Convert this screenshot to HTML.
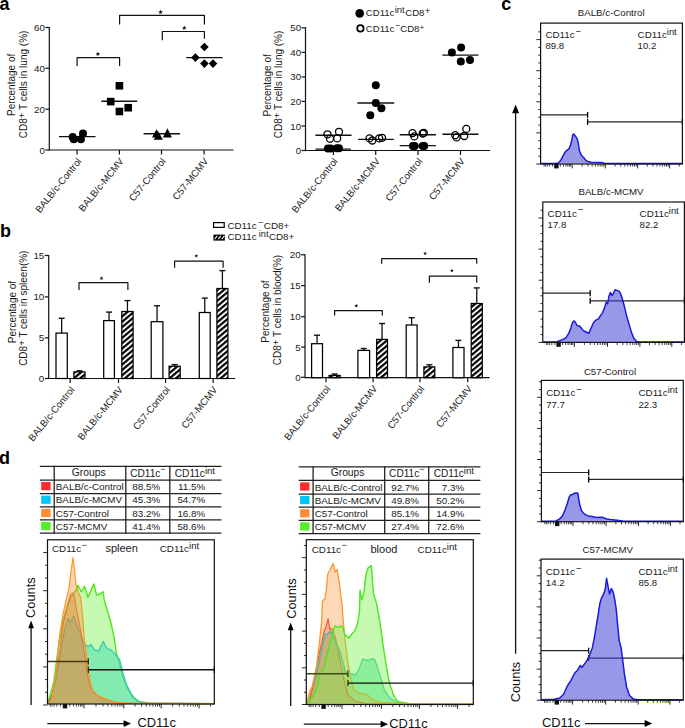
<!DOCTYPE html><html><head><meta charset="utf-8"><style>html,body{margin:0;padding:0;background:#fff;overflow:hidden}svg{display:block}text{font-family:"Liberation Sans",sans-serif}</style></head><body>
<svg width="685" height="728" viewBox="0 0 685 728">
<defs><pattern id="hatch" patternUnits="userSpaceOnUse" width="4.1" height="4.1" patternTransform="rotate(-40)"><rect x="0" y="0" width="4.1" height="4.1" fill="#fff"/><rect x="0" y="0" width="4.1" height="2.2" fill="#000"/></pattern></defs>
<rect width="685" height="728" fill="#fff"/>
<text x="-0.50" y="9.70" font-size="18" text-anchor="start" fill="#000" font-weight="bold" >a</text>
<text x="0.10" y="236.80" font-size="18" text-anchor="start" fill="#000" font-weight="bold" >b</text>
<text x="-0.90" y="463.80" font-size="18" text-anchor="start" fill="#000" font-weight="bold" >d</text>
<text x="501.30" y="9.70" font-size="18" text-anchor="start" fill="#000" font-weight="bold" >c</text>
<line x1="49.30" y1="26.90" x2="49.30" y2="150.60" stroke="#111" stroke-width="1.2"/>
<line x1="45.40" y1="27.50" x2="49.30" y2="27.50" stroke="#111" stroke-width="1.2"/>
<text x="44.90" y="31.00" font-size="9.8" text-anchor="end" fill="#1a1a1a" >60</text>
<line x1="45.40" y1="68.30" x2="49.30" y2="68.30" stroke="#111" stroke-width="1.2"/>
<text x="44.90" y="71.80" font-size="9.8" text-anchor="end" fill="#1a1a1a" >40</text>
<line x1="45.40" y1="109.20" x2="49.30" y2="109.20" stroke="#111" stroke-width="1.2"/>
<text x="44.90" y="112.70" font-size="9.8" text-anchor="end" fill="#1a1a1a" >20</text>
<line x1="45.40" y1="150.00" x2="49.30" y2="150.00" stroke="#111" stroke-width="1.2"/>
<text x="44.90" y="153.50" font-size="9.8" text-anchor="end" fill="#1a1a1a" >0</text>
<line x1="49.30" y1="150.00" x2="233.50" y2="150.00" stroke="#111" stroke-width="1.2"/>
<line x1="77.10" y1="150.00" x2="77.10" y2="154.50" stroke="#111" stroke-width="1.2"/>
<line x1="119.40" y1="150.00" x2="119.40" y2="154.50" stroke="#111" stroke-width="1.2"/>
<line x1="161.50" y1="150.00" x2="161.50" y2="154.50" stroke="#111" stroke-width="1.2"/>
<line x1="204.10" y1="150.00" x2="204.10" y2="154.50" stroke="#111" stroke-width="1.2"/>
<text x="81.90" y="161.50" font-size="9.7" text-anchor="end" fill="#1a1a1a" transform="rotate(-51 81.90 161.50)">BALB/c-Control</text>
<text x="124.20" y="161.50" font-size="9.7" text-anchor="end" fill="#1a1a1a" transform="rotate(-51 124.20 161.50)">BALB/c-MCMV</text>
<text x="166.30" y="161.50" font-size="9.7" text-anchor="end" fill="#1a1a1a" transform="rotate(-51 166.30 161.50)">C57-Control</text>
<text x="208.90" y="161.50" font-size="9.7" text-anchor="end" fill="#1a1a1a" transform="rotate(-51 208.90 161.50)">C57-MCMV</text>
<text x="15.50" y="84.90" font-size="10" text-anchor="middle" fill="#1a1a1a" transform="rotate(-90 15.50 84.90)">Percentage of</text>
<text x="27.00" y="84.40" font-size="10" text-anchor="middle" fill="#1a1a1a" transform="rotate(-90 27.00 84.40)">CD8<tspan font-size="9.6" dy="-1.8">+</tspan><tspan dy="1.8"> T cells in lung (%)</tspan></text>
<polyline points="77.1,66.0 77.1,57.6 119.6,57.6 119.6,66.0" fill="none" stroke="#111" stroke-width="1.2" stroke-linejoin="round" stroke-linejoin="miter"/>
<polygon points="97.90,51.50 98.52,53.15 100.28,53.23 98.90,54.32 99.37,56.02 97.90,55.05 96.43,56.02 96.90,54.32 95.52,53.23 97.28,53.15" fill="#111"/>
<polyline points="119.6,24.5 119.6,15.4 204.4,15.4 204.4,24.5" fill="none" stroke="#111" stroke-width="1.2" stroke-linejoin="round" stroke-linejoin="miter"/>
<polygon points="160.60,9.60 161.22,11.25 162.98,11.33 161.60,12.42 162.07,14.12 160.60,13.15 159.13,14.12 159.60,12.42 158.22,11.33 159.98,11.25" fill="#111"/>
<polyline points="162.3,40.3 162.3,31.5 204.4,31.5 204.4,38.8" fill="none" stroke="#111" stroke-width="1.2" stroke-linejoin="round" stroke-linejoin="miter"/>
<polygon points="184.30,25.50 184.92,27.15 186.68,27.23 185.30,28.32 185.77,30.02 184.30,29.05 182.83,30.02 183.30,28.32 181.92,27.23 183.68,27.15" fill="#111"/>
<line x1="59.00" y1="136.60" x2="95.50" y2="136.60" stroke="#111" stroke-width="1.4"/>
<line x1="101.30" y1="101.30" x2="137.20" y2="101.30" stroke="#111" stroke-width="1.4"/>
<line x1="143.60" y1="133.70" x2="180.10" y2="133.70" stroke="#111" stroke-width="1.4"/>
<line x1="186.20" y1="57.60" x2="222.60" y2="57.60" stroke="#111" stroke-width="1.4"/>
<circle cx="72.7" cy="137" r="4" fill="#000"/>
<circle cx="73.8" cy="139.3" r="4" fill="#000"/>
<circle cx="80.9" cy="139.3" r="4" fill="#000"/>
<circle cx="83" cy="133.4" r="4" fill="#000"/>
<rect x="115.6" y="82.0" width="7.6" height="7.6" fill="#000"/>
<rect x="106.9" y="97.8" width="7.6" height="7.6" fill="#000"/>
<rect x="124.4" y="103.9" width="7.6" height="7.6" fill="#000"/>
<rect x="115.6" y="107.7" width="7.6" height="7.6" fill="#000"/>
<polygon points="156.6,129.2 161.2,137.6 152.0,137.6" fill="#000" stroke="none" stroke-width="1" />
<polygon points="158.3,131.6 162.9,139.8 153.7,139.8" fill="#000" stroke="none" stroke-width="1" />
<polygon points="167.4,128.2 171.9,137.4 162.9,137.4" fill="#000" stroke="none" stroke-width="1" />
<polygon points="204.4,42.7 208.7,47.0 204.4,51.3 200.1,47.0" fill="#000" stroke="none" stroke-width="1" />
<polygon points="195.4,53.3 199.7,57.6 195.4,61.9 191.1,57.6" fill="#000" stroke="none" stroke-width="1" />
<polygon points="204.4,59.3 208.7,63.6 204.4,67.9 200.1,63.6" fill="#000" stroke="none" stroke-width="1" />
<polygon points="213.0,59.3 217.3,63.6 213.0,67.9 208.7,63.6" fill="#000" stroke="none" stroke-width="1" />
<line x1="305.50" y1="27.20" x2="305.50" y2="151.10" stroke="#111" stroke-width="1.2"/>
<line x1="301.60" y1="27.80" x2="305.50" y2="27.80" stroke="#111" stroke-width="1.2"/>
<text x="301.10" y="31.30" font-size="9.8" text-anchor="end" fill="#1a1a1a" >50</text>
<line x1="301.60" y1="52.40" x2="305.50" y2="52.40" stroke="#111" stroke-width="1.2"/>
<text x="301.10" y="55.90" font-size="9.8" text-anchor="end" fill="#1a1a1a" >40</text>
<line x1="301.60" y1="76.90" x2="305.50" y2="76.90" stroke="#111" stroke-width="1.2"/>
<text x="301.10" y="80.40" font-size="9.8" text-anchor="end" fill="#1a1a1a" >30</text>
<line x1="301.60" y1="101.40" x2="305.50" y2="101.40" stroke="#111" stroke-width="1.2"/>
<text x="301.10" y="104.90" font-size="9.8" text-anchor="end" fill="#1a1a1a" >20</text>
<line x1="301.60" y1="126.00" x2="305.50" y2="126.00" stroke="#111" stroke-width="1.2"/>
<text x="301.10" y="129.50" font-size="9.8" text-anchor="end" fill="#1a1a1a" >10</text>
<line x1="301.60" y1="150.50" x2="305.50" y2="150.50" stroke="#111" stroke-width="1.2"/>
<text x="301.10" y="154.00" font-size="9.8" text-anchor="end" fill="#1a1a1a" >0</text>
<line x1="305.50" y1="150.50" x2="490.00" y2="150.50" stroke="#111" stroke-width="1.2"/>
<line x1="333.40" y1="150.50" x2="333.40" y2="155.00" stroke="#111" stroke-width="1.2"/>
<line x1="375.70" y1="150.50" x2="375.70" y2="155.00" stroke="#111" stroke-width="1.2"/>
<line x1="418.00" y1="150.50" x2="418.00" y2="155.00" stroke="#111" stroke-width="1.2"/>
<line x1="460.50" y1="150.50" x2="460.50" y2="155.00" stroke="#111" stroke-width="1.2"/>
<text x="338.20" y="161.50" font-size="9.7" text-anchor="end" fill="#1a1a1a" transform="rotate(-51 338.20 161.50)">BALB/c-Control</text>
<text x="380.50" y="161.50" font-size="9.7" text-anchor="end" fill="#1a1a1a" transform="rotate(-51 380.50 161.50)">BALB/c-MCMV</text>
<text x="422.80" y="161.50" font-size="9.7" text-anchor="end" fill="#1a1a1a" transform="rotate(-51 422.80 161.50)">C57-Control</text>
<text x="465.30" y="161.50" font-size="9.7" text-anchor="end" fill="#1a1a1a" transform="rotate(-51 465.30 161.50)">C57-MCMV</text>
<text x="270.80" y="85.40" font-size="10" text-anchor="middle" fill="#1a1a1a" transform="rotate(-90 270.80 85.40)">Percentage of</text>
<text x="282.30" y="84.40" font-size="10" text-anchor="middle" fill="#1a1a1a" transform="rotate(-90 282.30 84.40)">CD8<tspan font-size="9.6" dy="-1.8">+</tspan><tspan dy="1.8"> T cells in lung (%)</tspan></text>
<circle cx="359.7" cy="13.3" r="4.35" fill="#000"/>
<circle cx="360.4" cy="28.4" r="3.2" fill="none" stroke="#000" stroke-width="1.7"/>
<text x="365.80" y="15.90" font-size="9.6" text-anchor="start" fill="#1a1a1a" >CD11c<tspan font-size="9.4" dy="-3.2" dx="0.3">int</tspan><tspan dy="3.2" dx="0.6">CD8</tspan><tspan dy="-2.2" dx="0.3">+</tspan></text>
<text x="365.80" y="31.90" font-size="9.6" text-anchor="start" fill="#1a1a1a" >CD11c<tspan font-size="8.6" dy="-4.2" dx="0.6">−</tspan><tspan dy="4.2" dx="0.2">CD8</tspan><tspan dy="-2.2" font-size="8">+</tspan></text>
<line x1="315.40" y1="135.30" x2="351.50" y2="135.30" stroke="#111" stroke-width="1.4"/>
<line x1="315.40" y1="149.10" x2="350.80" y2="149.10" stroke="#111" stroke-width="1.4"/>
<line x1="357.40" y1="103.00" x2="394.20" y2="103.00" stroke="#111" stroke-width="1.4"/>
<line x1="358.10" y1="139.40" x2="393.80" y2="139.40" stroke="#111" stroke-width="1.4"/>
<line x1="399.70" y1="134.80" x2="435.90" y2="134.80" stroke="#111" stroke-width="1.4"/>
<line x1="399.70" y1="145.60" x2="435.90" y2="145.60" stroke="#111" stroke-width="1.4"/>
<line x1="442.40" y1="55.10" x2="478.50" y2="55.10" stroke="#111" stroke-width="1.4"/>
<line x1="442.40" y1="134.20" x2="478.50" y2="134.20" stroke="#111" stroke-width="1.4"/>
<circle cx="327.9" cy="148.6" r="4.0" fill="#000"/>
<circle cx="330.7" cy="148.6" r="4.0" fill="#000"/>
<circle cx="336.9" cy="148.2" r="4.0" fill="#000"/>
<circle cx="339" cy="148.2" r="4.0" fill="#000"/>
<circle cx="375.8" cy="85.2" r="4.0" fill="#000"/>
<circle cx="375.8" cy="103" r="4.0" fill="#000"/>
<circle cx="381.4" cy="108.2" r="4.0" fill="#000"/>
<circle cx="370.3" cy="115.2" r="4.0" fill="#000"/>
<circle cx="412.9" cy="145.9" r="4.0" fill="#000"/>
<circle cx="414.7" cy="145.9" r="4.0" fill="#000"/>
<circle cx="422.7" cy="145.9" r="4.0" fill="#000"/>
<circle cx="424.2" cy="145.9" r="4.0" fill="#000"/>
<circle cx="451.9" cy="52.4" r="4.0" fill="#000"/>
<circle cx="461.1" cy="47.5" r="4.0" fill="#000"/>
<circle cx="460.8" cy="61.6" r="4.0" fill="#000"/>
<circle cx="470" cy="60" r="4.0" fill="#000"/>
<circle cx="327.5" cy="134.3" r="3.5" fill="none" stroke="#000" stroke-width="1.3"/>
<circle cx="330" cy="138.7" r="3.5" fill="none" stroke="#000" stroke-width="1.3"/>
<circle cx="337.2" cy="138.4" r="3.5" fill="none" stroke="#000" stroke-width="1.3"/>
<circle cx="339" cy="131.8" r="3.5" fill="none" stroke="#000" stroke-width="1.3"/>
<circle cx="369.5" cy="138.4" r="3.5" fill="none" stroke="#000" stroke-width="1.3"/>
<circle cx="372.3" cy="140.5" r="3.5" fill="none" stroke="#000" stroke-width="1.3"/>
<circle cx="379.2" cy="138.4" r="3.5" fill="none" stroke="#000" stroke-width="1.3"/>
<circle cx="382" cy="137.8" r="3.5" fill="none" stroke="#000" stroke-width="1.3"/>
<circle cx="412.5" cy="133.1" r="3.5" fill="none" stroke="#000" stroke-width="1.3"/>
<circle cx="414.3" cy="136.4" r="3.5" fill="none" stroke="#000" stroke-width="1.3"/>
<circle cx="422.7" cy="133.5" r="3.5" fill="none" stroke="#000" stroke-width="1.3"/>
<circle cx="423.8" cy="132.8" r="3.5" fill="none" stroke="#000" stroke-width="1.3"/>
<circle cx="455.2" cy="135.2" r="3.5" fill="none" stroke="#000" stroke-width="1.3"/>
<circle cx="456.6" cy="137.4" r="3.5" fill="none" stroke="#000" stroke-width="1.3"/>
<circle cx="464.2" cy="136.0" r="3.5" fill="none" stroke="#000" stroke-width="1.3"/>
<circle cx="466.3" cy="128.9" r="3.5" fill="none" stroke="#000" stroke-width="1.3"/>
<line x1="48.70" y1="254.90" x2="48.70" y2="379.10" stroke="#111" stroke-width="1.2"/>
<line x1="44.80" y1="255.50" x2="48.70" y2="255.50" stroke="#111" stroke-width="1.2"/>
<text x="44.30" y="259.00" font-size="9.8" text-anchor="end" fill="#1a1a1a" >15</text>
<line x1="44.80" y1="296.90" x2="48.70" y2="296.90" stroke="#111" stroke-width="1.2"/>
<text x="44.30" y="300.40" font-size="9.8" text-anchor="end" fill="#1a1a1a" >10</text>
<line x1="44.80" y1="337.90" x2="48.70" y2="337.90" stroke="#111" stroke-width="1.2"/>
<text x="44.30" y="341.40" font-size="9.8" text-anchor="end" fill="#1a1a1a" >5</text>
<line x1="44.80" y1="378.50" x2="48.70" y2="378.50" stroke="#111" stroke-width="1.2"/>
<text x="44.30" y="382.00" font-size="9.8" text-anchor="end" fill="#1a1a1a" >0</text>
<line x1="48.70" y1="378.50" x2="235.20" y2="378.50" stroke="#111" stroke-width="1.2"/>
<line x1="70.20" y1="378.50" x2="70.20" y2="383.00" stroke="#111" stroke-width="1.2"/>
<line x1="118.50" y1="378.50" x2="118.50" y2="383.00" stroke="#111" stroke-width="1.2"/>
<line x1="165.60" y1="378.50" x2="165.60" y2="383.00" stroke="#111" stroke-width="1.2"/>
<line x1="213.10" y1="378.50" x2="213.10" y2="383.00" stroke="#111" stroke-width="1.2"/>
<text x="75.00" y="390.00" font-size="9.7" text-anchor="end" fill="#1a1a1a" transform="rotate(-51 75.00 390.00)">BALB/c-Control</text>
<text x="123.30" y="390.00" font-size="9.7" text-anchor="end" fill="#1a1a1a" transform="rotate(-51 123.30 390.00)">BALB/c-MCMV</text>
<text x="170.40" y="390.00" font-size="9.7" text-anchor="end" fill="#1a1a1a" transform="rotate(-51 170.40 390.00)">C57-Control</text>
<text x="217.90" y="390.00" font-size="9.7" text-anchor="end" fill="#1a1a1a" transform="rotate(-51 217.90 390.00)">C57-MCMV</text>
<text x="15.60" y="312.00" font-size="10" text-anchor="middle" fill="#1a1a1a" transform="rotate(-90 15.60 312.00)">Percentage of</text>
<text x="26.60" y="308.20" font-size="10" text-anchor="middle" fill="#1a1a1a" transform="rotate(-90 26.60 308.20)">CD8<tspan font-size="9.6" dy="-1.8">+</tspan><tspan dy="1.8"> T cells in spleen(%)</tspan></text>
<line x1="61.65" y1="333.10" x2="61.65" y2="318.30" stroke="#111" stroke-width="1.3"/>
<line x1="58.65" y1="318.30" x2="64.65" y2="318.30" stroke="#111" stroke-width="1.4"/>
<rect x="56.00" y="333.10" width="11.30" height="45.40" fill="#fff" stroke="#000" stroke-width="1.25"/>
<line x1="79.45" y1="371.90" x2="79.45" y2="370.80" stroke="#111" stroke-width="1.3"/>
<line x1="76.45" y1="370.80" x2="82.45" y2="370.80" stroke="#111" stroke-width="1.4"/>
<rect x="73.90" y="371.90" width="11.10" height="6.60" fill="url(#hatch)" stroke="#000" stroke-width="1.25"/>
<line x1="109.05" y1="320.60" x2="109.05" y2="312.10" stroke="#111" stroke-width="1.3"/>
<line x1="106.05" y1="312.10" x2="112.05" y2="312.10" stroke="#111" stroke-width="1.4"/>
<rect x="103.70" y="320.60" width="10.70" height="57.90" fill="#fff" stroke="#000" stroke-width="1.25"/>
<line x1="127.45" y1="311.50" x2="127.45" y2="300.60" stroke="#111" stroke-width="1.3"/>
<line x1="124.45" y1="300.60" x2="130.45" y2="300.60" stroke="#111" stroke-width="1.4"/>
<rect x="121.80" y="311.50" width="11.30" height="67.00" fill="url(#hatch)" stroke="#000" stroke-width="1.25"/>
<line x1="157.05" y1="321.70" x2="157.05" y2="305.80" stroke="#111" stroke-width="1.3"/>
<line x1="154.05" y1="305.80" x2="160.05" y2="305.80" stroke="#111" stroke-width="1.4"/>
<rect x="151.20" y="321.70" width="11.70" height="56.80" fill="#fff" stroke="#000" stroke-width="1.25"/>
<line x1="174.65" y1="366.20" x2="174.65" y2="364.60" stroke="#111" stroke-width="1.3"/>
<line x1="171.65" y1="364.60" x2="177.65" y2="364.60" stroke="#111" stroke-width="1.4"/>
<rect x="169.10" y="366.20" width="11.10" height="12.30" fill="url(#hatch)" stroke="#000" stroke-width="1.25"/>
<line x1="204.75" y1="312.50" x2="204.75" y2="298.10" stroke="#111" stroke-width="1.3"/>
<line x1="201.75" y1="298.10" x2="207.75" y2="298.10" stroke="#111" stroke-width="1.4"/>
<rect x="199.30" y="312.50" width="10.90" height="66.00" fill="#fff" stroke="#000" stroke-width="1.25"/>
<line x1="222.40" y1="288.50" x2="222.40" y2="270.60" stroke="#111" stroke-width="1.3"/>
<line x1="219.40" y1="270.60" x2="225.40" y2="270.60" stroke="#111" stroke-width="1.4"/>
<rect x="216.90" y="288.50" width="11.00" height="90.00" fill="url(#hatch)" stroke="#000" stroke-width="1.25"/>
<polyline points="79.0,290.0 79.0,282.7 127.9,282.7 127.9,290.0" fill="none" stroke="#111" stroke-width="1.2" stroke-linejoin="round" stroke-linejoin="miter"/>
<polygon points="101.50,276.30 101.99,277.62 103.40,277.68 102.30,278.56 102.68,279.92 101.50,279.14 100.32,279.92 100.70,278.56 99.60,277.68 101.01,277.62" fill="#111"/>
<polyline points="174.6,267.7 174.6,261.2 223.1,261.2 223.1,267.7" fill="none" stroke="#111" stroke-width="1.2" stroke-linejoin="round" stroke-linejoin="miter"/>
<polygon points="196.30,254.00 196.79,255.32 198.20,255.38 197.10,256.26 197.48,257.62 196.30,256.84 195.12,257.62 195.50,256.26 194.40,255.38 195.81,255.32" fill="#111"/>
<rect x="213.6" y="222.6" width="10.6" height="4.8" fill="#fff" stroke="#000" stroke-width="1.2"/>
<rect x="213.4" y="234.6" width="11.4" height="6.0" fill="#000"/>
<line x1="214.6" y1="239.3" x2="217.2" y2="235.9" stroke="#fff" stroke-width="1.05"/>
<line x1="218.2" y1="239.3" x2="220.8" y2="235.9" stroke="#fff" stroke-width="1.05"/>
<line x1="221.7" y1="239.3" x2="224.3" y2="235.9" stroke="#fff" stroke-width="1.05"/>
<text x="227.40" y="228.50" font-size="9.8" text-anchor="start" fill="#1a1a1a" >CD11c<tspan font-size="8.6" dy="-3.3" dx="1.6">−</tspan><tspan dy="3.3" dx="0.6">CD8+</tspan></text>
<text x="227.40" y="240.10" font-size="9.8" text-anchor="start" fill="#1a1a1a" >CD11c<tspan font-size="9.2" dy="-3.2" dx="2.2">int</tspan><tspan dy="3.2" dx="0.4">CD8+</tspan></text>
<line x1="305.00" y1="254.20" x2="305.00" y2="378.30" stroke="#111" stroke-width="1.2"/>
<line x1="301.10" y1="254.80" x2="305.00" y2="254.80" stroke="#111" stroke-width="1.2"/>
<text x="300.60" y="258.30" font-size="9.8" text-anchor="end" fill="#1a1a1a" >20</text>
<line x1="301.10" y1="285.60" x2="305.00" y2="285.60" stroke="#111" stroke-width="1.2"/>
<text x="300.60" y="289.10" font-size="9.8" text-anchor="end" fill="#1a1a1a" >15</text>
<line x1="301.10" y1="316.70" x2="305.00" y2="316.70" stroke="#111" stroke-width="1.2"/>
<text x="300.60" y="320.20" font-size="9.8" text-anchor="end" fill="#1a1a1a" >10</text>
<line x1="301.10" y1="347.10" x2="305.00" y2="347.10" stroke="#111" stroke-width="1.2"/>
<text x="300.60" y="350.60" font-size="9.8" text-anchor="end" fill="#1a1a1a" >5</text>
<line x1="301.10" y1="377.30" x2="305.00" y2="377.30" stroke="#111" stroke-width="1.2"/>
<text x="300.60" y="380.80" font-size="9.8" text-anchor="end" fill="#1a1a1a" >0</text>
<line x1="305.00" y1="377.70" x2="489.60" y2="377.70" stroke="#111" stroke-width="1.2"/>
<line x1="326.00" y1="377.70" x2="326.00" y2="382.20" stroke="#111" stroke-width="1.2"/>
<line x1="373.10" y1="377.70" x2="373.10" y2="382.20" stroke="#111" stroke-width="1.2"/>
<line x1="420.00" y1="377.70" x2="420.00" y2="382.20" stroke="#111" stroke-width="1.2"/>
<line x1="467.70" y1="377.70" x2="467.70" y2="382.20" stroke="#111" stroke-width="1.2"/>
<text x="330.80" y="389.00" font-size="9.7" text-anchor="end" fill="#1a1a1a" transform="rotate(-51 330.80 389.00)">BALB/c-Control</text>
<text x="377.90" y="389.00" font-size="9.7" text-anchor="end" fill="#1a1a1a" transform="rotate(-51 377.90 389.00)">BALB/c-MCMV</text>
<text x="424.80" y="389.00" font-size="9.7" text-anchor="end" fill="#1a1a1a" transform="rotate(-51 424.80 389.00)">C57-Control</text>
<text x="472.50" y="389.00" font-size="9.7" text-anchor="end" fill="#1a1a1a" transform="rotate(-51 472.50 389.00)">C57-MCMV</text>
<text x="269.30" y="311.50" font-size="10" text-anchor="middle" fill="#1a1a1a" transform="rotate(-90 269.30 311.50)">Percentage of</text>
<text x="281.00" y="310.00" font-size="10" text-anchor="middle" fill="#1a1a1a" transform="rotate(-90 281.00 310.00)">CD8<tspan font-size="9.6" dy="-1.8">+</tspan><tspan dy="1.8"> T cells in blood(%)</tspan></text>
<line x1="317.05" y1="343.70" x2="317.05" y2="335.20" stroke="#111" stroke-width="1.3"/>
<line x1="314.05" y1="335.20" x2="320.05" y2="335.20" stroke="#111" stroke-width="1.4"/>
<rect x="311.60" y="343.70" width="10.90" height="34.00" fill="#fff" stroke="#000" stroke-width="1.25"/>
<line x1="334.65" y1="375.40" x2="334.65" y2="374.00" stroke="#111" stroke-width="1.3"/>
<line x1="331.65" y1="374.00" x2="337.65" y2="374.00" stroke="#111" stroke-width="1.4"/>
<rect x="329.10" y="375.40" width="11.10" height="2.30" fill="url(#hatch)" stroke="#000" stroke-width="1.25"/>
<line x1="363.75" y1="350.40" x2="363.75" y2="348.50" stroke="#111" stroke-width="1.3"/>
<line x1="360.75" y1="348.50" x2="366.75" y2="348.50" stroke="#111" stroke-width="1.4"/>
<rect x="357.90" y="350.40" width="11.70" height="27.30" fill="#fff" stroke="#000" stroke-width="1.25"/>
<line x1="382.05" y1="339.40" x2="382.05" y2="323.50" stroke="#111" stroke-width="1.3"/>
<line x1="379.05" y1="323.50" x2="385.05" y2="323.50" stroke="#111" stroke-width="1.4"/>
<rect x="376.60" y="339.40" width="10.90" height="38.30" fill="url(#hatch)" stroke="#000" stroke-width="1.25"/>
<line x1="411.65" y1="325.00" x2="411.65" y2="317.70" stroke="#111" stroke-width="1.3"/>
<line x1="408.65" y1="317.70" x2="414.65" y2="317.70" stroke="#111" stroke-width="1.4"/>
<rect x="406.20" y="325.00" width="10.90" height="52.70" fill="#fff" stroke="#000" stroke-width="1.25"/>
<line x1="429.35" y1="366.90" x2="429.35" y2="364.80" stroke="#111" stroke-width="1.3"/>
<line x1="426.35" y1="364.80" x2="432.35" y2="364.80" stroke="#111" stroke-width="1.4"/>
<rect x="423.90" y="366.90" width="10.90" height="10.80" fill="url(#hatch)" stroke="#000" stroke-width="1.25"/>
<line x1="458.45" y1="347.50" x2="458.45" y2="340.40" stroke="#111" stroke-width="1.3"/>
<line x1="455.45" y1="340.40" x2="461.45" y2="340.40" stroke="#111" stroke-width="1.4"/>
<rect x="452.90" y="347.50" width="11.10" height="30.20" fill="#fff" stroke="#000" stroke-width="1.25"/>
<line x1="476.75" y1="303.50" x2="476.75" y2="287.90" stroke="#111" stroke-width="1.3"/>
<line x1="473.75" y1="287.90" x2="479.75" y2="287.90" stroke="#111" stroke-width="1.4"/>
<rect x="471.20" y="303.50" width="11.10" height="74.20" fill="url(#hatch)" stroke="#000" stroke-width="1.25"/>
<polyline points="334.6,315.4 334.6,310.6 382.3,310.6 382.3,315.4" fill="none" stroke="#111" stroke-width="1.2" stroke-linejoin="round" stroke-linejoin="miter"/>
<polygon points="356.30,303.80 356.79,305.12 358.20,305.18 357.10,306.06 357.48,307.42 356.30,306.64 355.12,307.42 355.50,306.06 354.40,305.18 355.81,305.12" fill="#111"/>
<polyline points="381.7,263.8 381.7,258.6 476.7,258.6 476.7,263.8" fill="none" stroke="#111" stroke-width="1.2" stroke-linejoin="round" stroke-linejoin="miter"/>
<polygon points="425.10,251.40 425.59,252.72 427.00,252.78 425.90,253.66 426.28,255.02 425.10,254.24 423.92,255.02 424.30,253.66 423.20,252.78 424.61,252.72" fill="#111"/>
<polyline points="429.4,282.7 429.4,276.1 476.7,276.1 476.7,282.7" fill="none" stroke="#111" stroke-width="1.2" stroke-linejoin="round" stroke-linejoin="miter"/>
<polygon points="451.90,268.70 452.39,270.02 453.80,270.08 452.70,270.96 453.08,272.32 451.90,271.54 450.72,272.32 451.10,270.96 450.00,270.08 451.41,270.02" fill="#111"/>
<text x="611.20" y="16.20" font-size="9.7" text-anchor="middle" fill="#1a1a1a" >BALB/c-Control</text>
<line x1="536.30" y1="164.00" x2="540.60" y2="164.00" stroke="#111" stroke-width="0.9"/>
<line x1="538.30" y1="156.22" x2="540.60" y2="156.22" stroke="#111" stroke-width="0.9"/>
<line x1="538.30" y1="148.45" x2="540.60" y2="148.45" stroke="#111" stroke-width="0.9"/>
<line x1="538.30" y1="140.68" x2="540.60" y2="140.68" stroke="#111" stroke-width="0.9"/>
<line x1="536.30" y1="132.90" x2="540.60" y2="132.90" stroke="#111" stroke-width="0.9"/>
<line x1="538.30" y1="125.12" x2="540.60" y2="125.12" stroke="#111" stroke-width="0.9"/>
<line x1="538.30" y1="117.35" x2="540.60" y2="117.35" stroke="#111" stroke-width="0.9"/>
<line x1="538.30" y1="109.57" x2="540.60" y2="109.57" stroke="#111" stroke-width="0.9"/>
<line x1="536.30" y1="101.80" x2="540.60" y2="101.80" stroke="#111" stroke-width="0.9"/>
<line x1="538.30" y1="94.02" x2="540.60" y2="94.02" stroke="#111" stroke-width="0.9"/>
<line x1="538.30" y1="86.25" x2="540.60" y2="86.25" stroke="#111" stroke-width="0.9"/>
<line x1="538.30" y1="78.47" x2="540.60" y2="78.47" stroke="#111" stroke-width="0.9"/>
<line x1="536.30" y1="70.70" x2="540.60" y2="70.70" stroke="#111" stroke-width="0.9"/>
<line x1="538.30" y1="62.92" x2="540.60" y2="62.92" stroke="#111" stroke-width="0.9"/>
<line x1="538.30" y1="55.15" x2="540.60" y2="55.15" stroke="#111" stroke-width="0.9"/>
<line x1="538.30" y1="47.38" x2="540.60" y2="47.38" stroke="#111" stroke-width="0.9"/>
<line x1="536.30" y1="39.60" x2="540.60" y2="39.60" stroke="#111" stroke-width="0.9"/>
<line x1="538.30" y1="31.82" x2="540.60" y2="31.82" stroke="#111" stroke-width="0.9"/>
<line x1="572.20" y1="164.00" x2="572.20" y2="168.40" stroke="#111" stroke-width="0.9"/>
<line x1="605.30" y1="164.00" x2="605.30" y2="168.40" stroke="#111" stroke-width="0.9"/>
<line x1="637.70" y1="164.00" x2="637.70" y2="168.40" stroke="#111" stroke-width="0.9"/>
<line x1="669.60" y1="164.00" x2="669.60" y2="168.40" stroke="#111" stroke-width="0.9"/>
<line x1="582.16" y1="164.00" x2="582.16" y2="166.60" stroke="#111" stroke-width="0.8"/>
<line x1="587.99" y1="164.00" x2="587.99" y2="166.60" stroke="#111" stroke-width="0.8"/>
<line x1="592.13" y1="164.00" x2="592.13" y2="166.60" stroke="#111" stroke-width="0.8"/>
<line x1="595.34" y1="164.00" x2="595.34" y2="166.60" stroke="#111" stroke-width="0.8"/>
<line x1="597.96" y1="164.00" x2="597.96" y2="166.60" stroke="#111" stroke-width="0.8"/>
<line x1="600.17" y1="164.00" x2="600.17" y2="166.60" stroke="#111" stroke-width="0.8"/>
<line x1="602.09" y1="164.00" x2="602.09" y2="166.60" stroke="#111" stroke-width="0.8"/>
<line x1="603.79" y1="164.00" x2="603.79" y2="166.60" stroke="#111" stroke-width="0.8"/>
<line x1="615.05" y1="164.00" x2="615.05" y2="166.60" stroke="#111" stroke-width="0.8"/>
<line x1="620.76" y1="164.00" x2="620.76" y2="166.60" stroke="#111" stroke-width="0.8"/>
<line x1="624.81" y1="164.00" x2="624.81" y2="166.60" stroke="#111" stroke-width="0.8"/>
<line x1="627.95" y1="164.00" x2="627.95" y2="166.60" stroke="#111" stroke-width="0.8"/>
<line x1="630.51" y1="164.00" x2="630.51" y2="166.60" stroke="#111" stroke-width="0.8"/>
<line x1="632.68" y1="164.00" x2="632.68" y2="166.60" stroke="#111" stroke-width="0.8"/>
<line x1="634.56" y1="164.00" x2="634.56" y2="166.60" stroke="#111" stroke-width="0.8"/>
<line x1="636.22" y1="164.00" x2="636.22" y2="166.60" stroke="#111" stroke-width="0.8"/>
<line x1="647.30" y1="164.00" x2="647.30" y2="166.60" stroke="#111" stroke-width="0.8"/>
<line x1="652.92" y1="164.00" x2="652.92" y2="166.60" stroke="#111" stroke-width="0.8"/>
<line x1="656.91" y1="164.00" x2="656.91" y2="166.60" stroke="#111" stroke-width="0.8"/>
<line x1="660.00" y1="164.00" x2="660.00" y2="166.60" stroke="#111" stroke-width="0.8"/>
<line x1="662.52" y1="164.00" x2="662.52" y2="166.60" stroke="#111" stroke-width="0.8"/>
<line x1="664.66" y1="164.00" x2="664.66" y2="166.60" stroke="#111" stroke-width="0.8"/>
<line x1="666.51" y1="164.00" x2="666.51" y2="166.60" stroke="#111" stroke-width="0.8"/>
<line x1="668.14" y1="164.00" x2="668.14" y2="166.60" stroke="#111" stroke-width="0.8"/>
<line x1="679.20" y1="164.00" x2="679.20" y2="166.60" stroke="#111" stroke-width="0.8"/>
<line x1="560.35" y1="164.00" x2="560.35" y2="166.60" stroke="#111" stroke-width="0.8"/>
<line x1="563.51" y1="164.00" x2="563.51" y2="166.60" stroke="#111" stroke-width="0.8"/>
<line x1="565.88" y1="164.00" x2="565.88" y2="166.60" stroke="#111" stroke-width="0.8"/>
<line x1="567.78" y1="164.00" x2="567.78" y2="166.60" stroke="#111" stroke-width="0.8"/>
<line x1="569.36" y1="164.00" x2="569.36" y2="166.60" stroke="#111" stroke-width="0.8"/>
<line x1="570.62" y1="164.00" x2="570.62" y2="166.60" stroke="#111" stroke-width="0.8"/>
<line x1="552.65" y1="164.00" x2="552.65" y2="166.60" stroke="#111" stroke-width="0.8"/>
<line x1="549.65" y1="164.00" x2="549.65" y2="166.60" stroke="#111" stroke-width="0.8"/>
<line x1="547.39" y1="164.00" x2="547.39" y2="166.60" stroke="#111" stroke-width="0.8"/>
<line x1="545.59" y1="164.00" x2="545.59" y2="166.60" stroke="#111" stroke-width="0.8"/>
<line x1="544.09" y1="164.00" x2="544.09" y2="166.60" stroke="#111" stroke-width="0.8"/>
<rect x="554.2" y="164.0" width="4.4" height="4.4" fill="#111"/>
<line x1="540.60" y1="114.90" x2="587.60" y2="114.90" stroke="#262626" stroke-width="1.2"/>
<line x1="587.60" y1="121.90" x2="682.40" y2="121.90" stroke="#262626" stroke-width="1.2"/>
<line x1="587.60" y1="111.90" x2="587.60" y2="117.90" stroke="#000" stroke-width="1.3"/>
<line x1="587.60" y1="118.90" x2="587.60" y2="124.90" stroke="#000" stroke-width="1.3"/>
<line x1="682.40" y1="118.90" x2="682.40" y2="124.90" stroke="#000" stroke-width="1.3"/>
<polygon points="541.2,163.6 555.2,163.6 558.3,163.0 560.8,160.3 562.9,156.2 564.9,152.4 567.0,150.3 569.0,148.7 570.5,145.4 571.8,140.3 572.8,134.7 573.8,134.0 575.1,135.7 577.2,138.8 578.2,142.9 579.2,149.5 580.3,153.1 581.8,155.7 583.8,157.7 585.9,160.3 587.9,161.6 591.0,162.3 596.1,162.5 602.7,162.6 604.3,163.6 681.8,163.6" fill="rgba(64,64,215,0.54)" stroke="none" stroke-width="1" />
<polyline points="541.2,163.6 555.2,163.6 558.3,163.0 560.8,160.3 562.9,156.2 564.9,152.4 567.0,150.3 569.0,148.7 570.5,145.4 571.8,140.3 572.8,134.7 573.8,134.0 575.1,135.7 577.2,138.8 578.2,142.9 579.2,149.5 580.3,153.1 581.8,155.7 583.8,157.7 585.9,160.3 587.9,161.6 591.0,162.3 596.1,162.5 602.7,162.6 604.3,163.6 681.8,163.6" fill="none" stroke="#1a1ae0" stroke-width="1.5" stroke-linejoin="round" />
<rect x="540.60" y="23.10" width="141.80" height="140.90" fill="none" stroke="#111" stroke-width="1.2"/>
<text x="545.40" y="37.60" font-size="9.8" fill="#1a1a1a">CD11c<tspan font-size="9.6" dy="-3.1"><tspan dx="0.9">−</tspan></tspan></text>
<text x="545.40" y="49.40" font-size="9.6" text-anchor="start" fill="#1a1a1a" >89.8</text>
<text x="637.60" y="37.60" font-size="9.8" fill="#1a1a1a">CD11c<tspan font-size="9.3" dy="-2.6">int</tspan></text>
<text x="637.60" y="49.40" font-size="9.6" text-anchor="start" fill="#1a1a1a" >10.2</text>
<text x="611.00" y="195.20" font-size="9.7" text-anchor="middle" fill="#1a1a1a" >BALB/c-MCMV</text>
<line x1="538.50" y1="342.40" x2="542.80" y2="342.40" stroke="#111" stroke-width="0.9"/>
<line x1="540.50" y1="334.62" x2="542.80" y2="334.62" stroke="#111" stroke-width="0.9"/>
<line x1="540.50" y1="326.85" x2="542.80" y2="326.85" stroke="#111" stroke-width="0.9"/>
<line x1="540.50" y1="319.07" x2="542.80" y2="319.07" stroke="#111" stroke-width="0.9"/>
<line x1="538.50" y1="311.30" x2="542.80" y2="311.30" stroke="#111" stroke-width="0.9"/>
<line x1="540.50" y1="303.52" x2="542.80" y2="303.52" stroke="#111" stroke-width="0.9"/>
<line x1="540.50" y1="295.75" x2="542.80" y2="295.75" stroke="#111" stroke-width="0.9"/>
<line x1="540.50" y1="287.97" x2="542.80" y2="287.97" stroke="#111" stroke-width="0.9"/>
<line x1="538.50" y1="280.20" x2="542.80" y2="280.20" stroke="#111" stroke-width="0.9"/>
<line x1="540.50" y1="272.42" x2="542.80" y2="272.42" stroke="#111" stroke-width="0.9"/>
<line x1="540.50" y1="264.65" x2="542.80" y2="264.65" stroke="#111" stroke-width="0.9"/>
<line x1="540.50" y1="256.88" x2="542.80" y2="256.88" stroke="#111" stroke-width="0.9"/>
<line x1="538.50" y1="249.10" x2="542.80" y2="249.10" stroke="#111" stroke-width="0.9"/>
<line x1="540.50" y1="241.32" x2="542.80" y2="241.32" stroke="#111" stroke-width="0.9"/>
<line x1="540.50" y1="233.55" x2="542.80" y2="233.55" stroke="#111" stroke-width="0.9"/>
<line x1="540.50" y1="225.77" x2="542.80" y2="225.77" stroke="#111" stroke-width="0.9"/>
<line x1="538.50" y1="218.00" x2="542.80" y2="218.00" stroke="#111" stroke-width="0.9"/>
<line x1="540.50" y1="210.22" x2="542.80" y2="210.22" stroke="#111" stroke-width="0.9"/>
<line x1="574.40" y1="342.40" x2="574.40" y2="346.80" stroke="#111" stroke-width="0.9"/>
<line x1="607.50" y1="342.40" x2="607.50" y2="346.80" stroke="#111" stroke-width="0.9"/>
<line x1="639.90" y1="342.40" x2="639.90" y2="346.80" stroke="#111" stroke-width="0.9"/>
<line x1="671.80" y1="342.40" x2="671.80" y2="346.80" stroke="#111" stroke-width="0.9"/>
<line x1="584.36" y1="342.40" x2="584.36" y2="345.00" stroke="#111" stroke-width="0.8"/>
<line x1="590.19" y1="342.40" x2="590.19" y2="345.00" stroke="#111" stroke-width="0.8"/>
<line x1="594.33" y1="342.40" x2="594.33" y2="345.00" stroke="#111" stroke-width="0.8"/>
<line x1="597.54" y1="342.40" x2="597.54" y2="345.00" stroke="#111" stroke-width="0.8"/>
<line x1="600.16" y1="342.40" x2="600.16" y2="345.00" stroke="#111" stroke-width="0.8"/>
<line x1="602.37" y1="342.40" x2="602.37" y2="345.00" stroke="#111" stroke-width="0.8"/>
<line x1="604.29" y1="342.40" x2="604.29" y2="345.00" stroke="#111" stroke-width="0.8"/>
<line x1="605.99" y1="342.40" x2="605.99" y2="345.00" stroke="#111" stroke-width="0.8"/>
<line x1="617.25" y1="342.40" x2="617.25" y2="345.00" stroke="#111" stroke-width="0.8"/>
<line x1="622.96" y1="342.40" x2="622.96" y2="345.00" stroke="#111" stroke-width="0.8"/>
<line x1="627.01" y1="342.40" x2="627.01" y2="345.00" stroke="#111" stroke-width="0.8"/>
<line x1="630.15" y1="342.40" x2="630.15" y2="345.00" stroke="#111" stroke-width="0.8"/>
<line x1="632.71" y1="342.40" x2="632.71" y2="345.00" stroke="#111" stroke-width="0.8"/>
<line x1="634.88" y1="342.40" x2="634.88" y2="345.00" stroke="#111" stroke-width="0.8"/>
<line x1="636.76" y1="342.40" x2="636.76" y2="345.00" stroke="#111" stroke-width="0.8"/>
<line x1="638.42" y1="342.40" x2="638.42" y2="345.00" stroke="#111" stroke-width="0.8"/>
<line x1="649.50" y1="342.40" x2="649.50" y2="345.00" stroke="#111" stroke-width="0.8"/>
<line x1="655.12" y1="342.40" x2="655.12" y2="345.00" stroke="#111" stroke-width="0.8"/>
<line x1="659.11" y1="342.40" x2="659.11" y2="345.00" stroke="#111" stroke-width="0.8"/>
<line x1="662.20" y1="342.40" x2="662.20" y2="345.00" stroke="#111" stroke-width="0.8"/>
<line x1="664.72" y1="342.40" x2="664.72" y2="345.00" stroke="#111" stroke-width="0.8"/>
<line x1="666.86" y1="342.40" x2="666.86" y2="345.00" stroke="#111" stroke-width="0.8"/>
<line x1="668.71" y1="342.40" x2="668.71" y2="345.00" stroke="#111" stroke-width="0.8"/>
<line x1="670.34" y1="342.40" x2="670.34" y2="345.00" stroke="#111" stroke-width="0.8"/>
<line x1="681.40" y1="342.40" x2="681.40" y2="345.00" stroke="#111" stroke-width="0.8"/>
<line x1="562.55" y1="342.40" x2="562.55" y2="345.00" stroke="#111" stroke-width="0.8"/>
<line x1="565.71" y1="342.40" x2="565.71" y2="345.00" stroke="#111" stroke-width="0.8"/>
<line x1="568.08" y1="342.40" x2="568.08" y2="345.00" stroke="#111" stroke-width="0.8"/>
<line x1="569.98" y1="342.40" x2="569.98" y2="345.00" stroke="#111" stroke-width="0.8"/>
<line x1="571.56" y1="342.40" x2="571.56" y2="345.00" stroke="#111" stroke-width="0.8"/>
<line x1="572.82" y1="342.40" x2="572.82" y2="345.00" stroke="#111" stroke-width="0.8"/>
<line x1="554.85" y1="342.40" x2="554.85" y2="345.00" stroke="#111" stroke-width="0.8"/>
<line x1="551.85" y1="342.40" x2="551.85" y2="345.00" stroke="#111" stroke-width="0.8"/>
<line x1="549.59" y1="342.40" x2="549.59" y2="345.00" stroke="#111" stroke-width="0.8"/>
<line x1="547.79" y1="342.40" x2="547.79" y2="345.00" stroke="#111" stroke-width="0.8"/>
<line x1="546.29" y1="342.40" x2="546.29" y2="345.00" stroke="#111" stroke-width="0.8"/>
<rect x="556.4" y="342.4" width="4.4" height="4.4" fill="#111"/>
<line x1="542.80" y1="293.20" x2="590.20" y2="293.20" stroke="#262626" stroke-width="1.2"/>
<line x1="590.20" y1="300.80" x2="684.40" y2="300.80" stroke="#262626" stroke-width="1.2"/>
<line x1="590.20" y1="290.20" x2="590.20" y2="296.20" stroke="#000" stroke-width="1.3"/>
<line x1="590.20" y1="297.80" x2="590.20" y2="303.80" stroke="#000" stroke-width="1.3"/>
<line x1="684.40" y1="297.80" x2="684.40" y2="303.80" stroke="#000" stroke-width="1.3"/>
<polygon points="543.4,342.0 556.9,341.7 562.5,339.6 566.0,337.6 568.7,333.4 570.8,327.9 572.6,322.3 573.9,320.9 575.4,322.3 577.0,325.5 579.1,325.8 581.2,327.9 583.3,330.6 586.1,332.0 588.8,333.4 590.9,328.5 593.7,322.3 595.8,320.2 598.5,318.8 600.6,315.4 602.7,312.6 604.8,307.0 606.2,302.2 607.6,303.6 608.9,296.6 610.3,292.5 612.1,295.5 613.5,293.2 615.2,289.7 616.8,290.4 619.1,291.1 620.7,293.9 622.1,298.0 624.2,305.7 626.3,314.7 629.1,324.4 631.8,333.4 633.9,338.3 636.7,341.4 638.8,342.0 683.8,342.0" fill="rgba(64,64,215,0.54)" stroke="none" stroke-width="1" />
<polyline points="543.4,342.0 556.9,341.7 562.5,339.6 566.0,337.6 568.7,333.4 570.8,327.9 572.6,322.3 573.9,320.9 575.4,322.3 577.0,325.5 579.1,325.8 581.2,327.9 583.3,330.6 586.1,332.0 588.8,333.4 590.9,328.5 593.7,322.3 595.8,320.2 598.5,318.8 600.6,315.4 602.7,312.6 604.8,307.0 606.2,302.2 607.6,303.6 608.9,296.6 610.3,292.5 612.1,295.5 613.5,293.2 615.2,289.7 616.8,290.4 619.1,291.1 620.7,293.9 622.1,298.0 624.2,305.7 626.3,314.7 629.1,324.4 631.8,333.4 633.9,338.3 636.7,341.4 638.8,342.0 683.8,342.0" fill="none" stroke="#1a1ae0" stroke-width="1.5" stroke-linejoin="round" />
<rect x="542.80" y="202.00" width="141.60" height="140.40" fill="none" stroke="#111" stroke-width="1.2"/>
<text x="547.60" y="216.50" font-size="9.8" fill="#1a1a1a">CD11c<tspan font-size="9.6" dy="-3.1"><tspan dx="0.9">−</tspan></tspan></text>
<text x="547.60" y="228.10" font-size="9.6" text-anchor="start" fill="#1a1a1a" >17.8</text>
<text x="639.60" y="216.50" font-size="9.8" fill="#1a1a1a">CD11c<tspan font-size="9.3" dy="-2.6">int</tspan></text>
<text x="639.60" y="228.10" font-size="9.6" text-anchor="start" fill="#1a1a1a" >82.2</text>
<text x="610.00" y="375.20" font-size="9.7" text-anchor="middle" fill="#1a1a1a" >C57-Control</text>
<line x1="537.10" y1="521.70" x2="541.40" y2="521.70" stroke="#111" stroke-width="0.9"/>
<line x1="539.10" y1="513.93" x2="541.40" y2="513.93" stroke="#111" stroke-width="0.9"/>
<line x1="539.10" y1="506.15" x2="541.40" y2="506.15" stroke="#111" stroke-width="0.9"/>
<line x1="539.10" y1="498.38" x2="541.40" y2="498.38" stroke="#111" stroke-width="0.9"/>
<line x1="537.10" y1="490.60" x2="541.40" y2="490.60" stroke="#111" stroke-width="0.9"/>
<line x1="539.10" y1="482.83" x2="541.40" y2="482.83" stroke="#111" stroke-width="0.9"/>
<line x1="539.10" y1="475.05" x2="541.40" y2="475.05" stroke="#111" stroke-width="0.9"/>
<line x1="539.10" y1="467.28" x2="541.40" y2="467.28" stroke="#111" stroke-width="0.9"/>
<line x1="537.10" y1="459.50" x2="541.40" y2="459.50" stroke="#111" stroke-width="0.9"/>
<line x1="539.10" y1="451.73" x2="541.40" y2="451.73" stroke="#111" stroke-width="0.9"/>
<line x1="539.10" y1="443.95" x2="541.40" y2="443.95" stroke="#111" stroke-width="0.9"/>
<line x1="539.10" y1="436.18" x2="541.40" y2="436.18" stroke="#111" stroke-width="0.9"/>
<line x1="537.10" y1="428.40" x2="541.40" y2="428.40" stroke="#111" stroke-width="0.9"/>
<line x1="539.10" y1="420.63" x2="541.40" y2="420.63" stroke="#111" stroke-width="0.9"/>
<line x1="539.10" y1="412.85" x2="541.40" y2="412.85" stroke="#111" stroke-width="0.9"/>
<line x1="539.10" y1="405.08" x2="541.40" y2="405.08" stroke="#111" stroke-width="0.9"/>
<line x1="537.10" y1="397.30" x2="541.40" y2="397.30" stroke="#111" stroke-width="0.9"/>
<line x1="539.10" y1="389.53" x2="541.40" y2="389.53" stroke="#111" stroke-width="0.9"/>
<line x1="539.10" y1="381.75" x2="541.40" y2="381.75" stroke="#111" stroke-width="0.9"/>
<line x1="573.00" y1="521.70" x2="573.00" y2="526.10" stroke="#111" stroke-width="0.9"/>
<line x1="606.10" y1="521.70" x2="606.10" y2="526.10" stroke="#111" stroke-width="0.9"/>
<line x1="638.50" y1="521.70" x2="638.50" y2="526.10" stroke="#111" stroke-width="0.9"/>
<line x1="670.40" y1="521.70" x2="670.40" y2="526.10" stroke="#111" stroke-width="0.9"/>
<line x1="582.96" y1="521.70" x2="582.96" y2="524.30" stroke="#111" stroke-width="0.8"/>
<line x1="588.79" y1="521.70" x2="588.79" y2="524.30" stroke="#111" stroke-width="0.8"/>
<line x1="592.93" y1="521.70" x2="592.93" y2="524.30" stroke="#111" stroke-width="0.8"/>
<line x1="596.14" y1="521.70" x2="596.14" y2="524.30" stroke="#111" stroke-width="0.8"/>
<line x1="598.76" y1="521.70" x2="598.76" y2="524.30" stroke="#111" stroke-width="0.8"/>
<line x1="600.97" y1="521.70" x2="600.97" y2="524.30" stroke="#111" stroke-width="0.8"/>
<line x1="602.89" y1="521.70" x2="602.89" y2="524.30" stroke="#111" stroke-width="0.8"/>
<line x1="604.59" y1="521.70" x2="604.59" y2="524.30" stroke="#111" stroke-width="0.8"/>
<line x1="615.85" y1="521.70" x2="615.85" y2="524.30" stroke="#111" stroke-width="0.8"/>
<line x1="621.56" y1="521.70" x2="621.56" y2="524.30" stroke="#111" stroke-width="0.8"/>
<line x1="625.61" y1="521.70" x2="625.61" y2="524.30" stroke="#111" stroke-width="0.8"/>
<line x1="628.75" y1="521.70" x2="628.75" y2="524.30" stroke="#111" stroke-width="0.8"/>
<line x1="631.31" y1="521.70" x2="631.31" y2="524.30" stroke="#111" stroke-width="0.8"/>
<line x1="633.48" y1="521.70" x2="633.48" y2="524.30" stroke="#111" stroke-width="0.8"/>
<line x1="635.36" y1="521.70" x2="635.36" y2="524.30" stroke="#111" stroke-width="0.8"/>
<line x1="637.02" y1="521.70" x2="637.02" y2="524.30" stroke="#111" stroke-width="0.8"/>
<line x1="648.10" y1="521.70" x2="648.10" y2="524.30" stroke="#111" stroke-width="0.8"/>
<line x1="653.72" y1="521.70" x2="653.72" y2="524.30" stroke="#111" stroke-width="0.8"/>
<line x1="657.71" y1="521.70" x2="657.71" y2="524.30" stroke="#111" stroke-width="0.8"/>
<line x1="660.80" y1="521.70" x2="660.80" y2="524.30" stroke="#111" stroke-width="0.8"/>
<line x1="663.32" y1="521.70" x2="663.32" y2="524.30" stroke="#111" stroke-width="0.8"/>
<line x1="665.46" y1="521.70" x2="665.46" y2="524.30" stroke="#111" stroke-width="0.8"/>
<line x1="667.31" y1="521.70" x2="667.31" y2="524.30" stroke="#111" stroke-width="0.8"/>
<line x1="668.94" y1="521.70" x2="668.94" y2="524.30" stroke="#111" stroke-width="0.8"/>
<line x1="680.00" y1="521.70" x2="680.00" y2="524.30" stroke="#111" stroke-width="0.8"/>
<line x1="561.15" y1="521.70" x2="561.15" y2="524.30" stroke="#111" stroke-width="0.8"/>
<line x1="564.31" y1="521.70" x2="564.31" y2="524.30" stroke="#111" stroke-width="0.8"/>
<line x1="566.68" y1="521.70" x2="566.68" y2="524.30" stroke="#111" stroke-width="0.8"/>
<line x1="568.58" y1="521.70" x2="568.58" y2="524.30" stroke="#111" stroke-width="0.8"/>
<line x1="570.16" y1="521.70" x2="570.16" y2="524.30" stroke="#111" stroke-width="0.8"/>
<line x1="571.42" y1="521.70" x2="571.42" y2="524.30" stroke="#111" stroke-width="0.8"/>
<line x1="553.45" y1="521.70" x2="553.45" y2="524.30" stroke="#111" stroke-width="0.8"/>
<line x1="550.45" y1="521.70" x2="550.45" y2="524.30" stroke="#111" stroke-width="0.8"/>
<line x1="548.19" y1="521.70" x2="548.19" y2="524.30" stroke="#111" stroke-width="0.8"/>
<line x1="546.39" y1="521.70" x2="546.39" y2="524.30" stroke="#111" stroke-width="0.8"/>
<line x1="544.89" y1="521.70" x2="544.89" y2="524.30" stroke="#111" stroke-width="0.8"/>
<rect x="555.0" y="521.7" width="4.4" height="4.4" fill="#111"/>
<line x1="541.40" y1="472.50" x2="588.70" y2="472.50" stroke="#262626" stroke-width="1.2"/>
<line x1="588.70" y1="479.40" x2="683.30" y2="479.40" stroke="#262626" stroke-width="1.2"/>
<line x1="588.70" y1="469.50" x2="588.70" y2="475.50" stroke="#000" stroke-width="1.3"/>
<line x1="588.70" y1="476.40" x2="588.70" y2="482.40" stroke="#000" stroke-width="1.3"/>
<line x1="683.30" y1="476.40" x2="683.30" y2="482.40" stroke="#000" stroke-width="1.3"/>
<polygon points="542.0,521.3 556.1,521.0 559.6,518.9 562.3,516.2 565.1,509.9 567.2,503.7 569.3,496.8 570.7,494.7 572.7,494.4 574.1,493.3 576.2,493.0 577.9,493.3 578.7,498.8 580.0,505.8 581.8,511.3 584.5,514.1 588.0,515.9 592.2,516.6 596.3,517.6 600.5,517.3 603.3,517.6 606.7,519.0 610.2,519.6 617.1,520.3 622.7,521.0 628.2,521.3 682.7,521.3" fill="rgba(64,64,215,0.54)" stroke="none" stroke-width="1" />
<polyline points="542.0,521.3 556.1,521.0 559.6,518.9 562.3,516.2 565.1,509.9 567.2,503.7 569.3,496.8 570.7,494.7 572.7,494.4 574.1,493.3 576.2,493.0 577.9,493.3 578.7,498.8 580.0,505.8 581.8,511.3 584.5,514.1 588.0,515.9 592.2,516.6 596.3,517.6 600.5,517.3 603.3,517.6 606.7,519.0 610.2,519.6 617.1,520.3 622.7,521.0 628.2,521.3 682.7,521.3" fill="none" stroke="#1a1ae0" stroke-width="1.5" stroke-linejoin="round" />
<rect x="541.40" y="380.40" width="141.90" height="141.30" fill="none" stroke="#111" stroke-width="1.2"/>
<text x="546.20" y="395.90" font-size="9.8" fill="#1a1a1a">CD11c<tspan font-size="9.6" dy="-3.1"><tspan dx="0.9">−</tspan></tspan></text>
<text x="546.20" y="408.10" font-size="9.6" text-anchor="start" fill="#1a1a1a" >77.7</text>
<text x="638.50" y="395.90" font-size="9.8" fill="#1a1a1a">CD11c<tspan font-size="9.3" dy="-2.6">int</tspan></text>
<text x="638.50" y="408.10" font-size="9.6" text-anchor="start" fill="#1a1a1a" >22.3</text>
<text x="607.80" y="552.50" font-size="9.7" text-anchor="middle" fill="#1a1a1a" >C57-MCMV</text>
<line x1="536.70" y1="700.20" x2="541.00" y2="700.20" stroke="#111" stroke-width="0.9"/>
<line x1="538.70" y1="692.43" x2="541.00" y2="692.43" stroke="#111" stroke-width="0.9"/>
<line x1="538.70" y1="684.65" x2="541.00" y2="684.65" stroke="#111" stroke-width="0.9"/>
<line x1="538.70" y1="676.88" x2="541.00" y2="676.88" stroke="#111" stroke-width="0.9"/>
<line x1="536.70" y1="669.10" x2="541.00" y2="669.10" stroke="#111" stroke-width="0.9"/>
<line x1="538.70" y1="661.33" x2="541.00" y2="661.33" stroke="#111" stroke-width="0.9"/>
<line x1="538.70" y1="653.55" x2="541.00" y2="653.55" stroke="#111" stroke-width="0.9"/>
<line x1="538.70" y1="645.78" x2="541.00" y2="645.78" stroke="#111" stroke-width="0.9"/>
<line x1="536.70" y1="638.00" x2="541.00" y2="638.00" stroke="#111" stroke-width="0.9"/>
<line x1="538.70" y1="630.23" x2="541.00" y2="630.23" stroke="#111" stroke-width="0.9"/>
<line x1="538.70" y1="622.45" x2="541.00" y2="622.45" stroke="#111" stroke-width="0.9"/>
<line x1="538.70" y1="614.68" x2="541.00" y2="614.68" stroke="#111" stroke-width="0.9"/>
<line x1="536.70" y1="606.90" x2="541.00" y2="606.90" stroke="#111" stroke-width="0.9"/>
<line x1="538.70" y1="599.12" x2="541.00" y2="599.12" stroke="#111" stroke-width="0.9"/>
<line x1="538.70" y1="591.35" x2="541.00" y2="591.35" stroke="#111" stroke-width="0.9"/>
<line x1="538.70" y1="583.58" x2="541.00" y2="583.58" stroke="#111" stroke-width="0.9"/>
<line x1="536.70" y1="575.80" x2="541.00" y2="575.80" stroke="#111" stroke-width="0.9"/>
<line x1="538.70" y1="568.03" x2="541.00" y2="568.03" stroke="#111" stroke-width="0.9"/>
<line x1="538.70" y1="560.25" x2="541.00" y2="560.25" stroke="#111" stroke-width="0.9"/>
<line x1="572.60" y1="700.20" x2="572.60" y2="704.60" stroke="#111" stroke-width="0.9"/>
<line x1="605.70" y1="700.20" x2="605.70" y2="704.60" stroke="#111" stroke-width="0.9"/>
<line x1="638.10" y1="700.20" x2="638.10" y2="704.60" stroke="#111" stroke-width="0.9"/>
<line x1="670.00" y1="700.20" x2="670.00" y2="704.60" stroke="#111" stroke-width="0.9"/>
<line x1="582.56" y1="700.20" x2="582.56" y2="702.80" stroke="#111" stroke-width="0.8"/>
<line x1="588.39" y1="700.20" x2="588.39" y2="702.80" stroke="#111" stroke-width="0.8"/>
<line x1="592.53" y1="700.20" x2="592.53" y2="702.80" stroke="#111" stroke-width="0.8"/>
<line x1="595.74" y1="700.20" x2="595.74" y2="702.80" stroke="#111" stroke-width="0.8"/>
<line x1="598.36" y1="700.20" x2="598.36" y2="702.80" stroke="#111" stroke-width="0.8"/>
<line x1="600.57" y1="700.20" x2="600.57" y2="702.80" stroke="#111" stroke-width="0.8"/>
<line x1="602.49" y1="700.20" x2="602.49" y2="702.80" stroke="#111" stroke-width="0.8"/>
<line x1="604.19" y1="700.20" x2="604.19" y2="702.80" stroke="#111" stroke-width="0.8"/>
<line x1="615.45" y1="700.20" x2="615.45" y2="702.80" stroke="#111" stroke-width="0.8"/>
<line x1="621.16" y1="700.20" x2="621.16" y2="702.80" stroke="#111" stroke-width="0.8"/>
<line x1="625.21" y1="700.20" x2="625.21" y2="702.80" stroke="#111" stroke-width="0.8"/>
<line x1="628.35" y1="700.20" x2="628.35" y2="702.80" stroke="#111" stroke-width="0.8"/>
<line x1="630.91" y1="700.20" x2="630.91" y2="702.80" stroke="#111" stroke-width="0.8"/>
<line x1="633.08" y1="700.20" x2="633.08" y2="702.80" stroke="#111" stroke-width="0.8"/>
<line x1="634.96" y1="700.20" x2="634.96" y2="702.80" stroke="#111" stroke-width="0.8"/>
<line x1="636.62" y1="700.20" x2="636.62" y2="702.80" stroke="#111" stroke-width="0.8"/>
<line x1="647.70" y1="700.20" x2="647.70" y2="702.80" stroke="#111" stroke-width="0.8"/>
<line x1="653.32" y1="700.20" x2="653.32" y2="702.80" stroke="#111" stroke-width="0.8"/>
<line x1="657.31" y1="700.20" x2="657.31" y2="702.80" stroke="#111" stroke-width="0.8"/>
<line x1="660.40" y1="700.20" x2="660.40" y2="702.80" stroke="#111" stroke-width="0.8"/>
<line x1="662.92" y1="700.20" x2="662.92" y2="702.80" stroke="#111" stroke-width="0.8"/>
<line x1="665.06" y1="700.20" x2="665.06" y2="702.80" stroke="#111" stroke-width="0.8"/>
<line x1="666.91" y1="700.20" x2="666.91" y2="702.80" stroke="#111" stroke-width="0.8"/>
<line x1="668.54" y1="700.20" x2="668.54" y2="702.80" stroke="#111" stroke-width="0.8"/>
<line x1="679.60" y1="700.20" x2="679.60" y2="702.80" stroke="#111" stroke-width="0.8"/>
<line x1="560.75" y1="700.20" x2="560.75" y2="702.80" stroke="#111" stroke-width="0.8"/>
<line x1="563.91" y1="700.20" x2="563.91" y2="702.80" stroke="#111" stroke-width="0.8"/>
<line x1="566.28" y1="700.20" x2="566.28" y2="702.80" stroke="#111" stroke-width="0.8"/>
<line x1="568.18" y1="700.20" x2="568.18" y2="702.80" stroke="#111" stroke-width="0.8"/>
<line x1="569.76" y1="700.20" x2="569.76" y2="702.80" stroke="#111" stroke-width="0.8"/>
<line x1="571.02" y1="700.20" x2="571.02" y2="702.80" stroke="#111" stroke-width="0.8"/>
<line x1="553.05" y1="700.20" x2="553.05" y2="702.80" stroke="#111" stroke-width="0.8"/>
<line x1="550.05" y1="700.20" x2="550.05" y2="702.80" stroke="#111" stroke-width="0.8"/>
<line x1="547.79" y1="700.20" x2="547.79" y2="702.80" stroke="#111" stroke-width="0.8"/>
<line x1="545.99" y1="700.20" x2="545.99" y2="702.80" stroke="#111" stroke-width="0.8"/>
<line x1="544.49" y1="700.20" x2="544.49" y2="702.80" stroke="#111" stroke-width="0.8"/>
<rect x="554.6" y="700.2" width="4.4" height="4.4" fill="#111"/>
<line x1="541.00" y1="650.70" x2="588.60" y2="650.70" stroke="#262626" stroke-width="1.2"/>
<line x1="588.60" y1="658.10" x2="683.30" y2="658.10" stroke="#262626" stroke-width="1.2"/>
<line x1="588.60" y1="647.70" x2="588.60" y2="653.70" stroke="#000" stroke-width="1.3"/>
<line x1="588.60" y1="655.10" x2="588.60" y2="661.10" stroke="#000" stroke-width="1.3"/>
<line x1="683.30" y1="655.10" x2="683.30" y2="661.10" stroke="#000" stroke-width="1.3"/>
<polygon points="541.6,699.8 554.3,699.3 559.8,698.0 563.6,694.3 567.3,686.0 571.0,680.4 574.7,673.0 577.5,670.2 580.3,665.5 582.1,667.4 584.0,664.6 586.7,660.9 589.5,655.3 592.3,647.9 594.2,638.6 596.0,627.5 597.9,616.4 599.7,604.3 601.6,597.8 604.0,593.2 605.3,588.6 606.6,578.3 608.1,586.7 609.6,594.1 611.4,588.6 613.3,592.3 615.1,601.5 616.4,610.8 617.7,625.7 619.2,640.5 621.1,647.9 622.6,659.1 624.4,673.9 626.6,686.9 629.4,695.2 633.1,698.9 637.8,699.8 682.7,699.8" fill="rgba(64,64,215,0.54)" stroke="none" stroke-width="1" />
<polyline points="541.6,699.8 554.3,699.3 559.8,698.0 563.6,694.3 567.3,686.0 571.0,680.4 574.7,673.0 577.5,670.2 580.3,665.5 582.1,667.4 584.0,664.6 586.7,660.9 589.5,655.3 592.3,647.9 594.2,638.6 596.0,627.5 597.9,616.4 599.7,604.3 601.6,597.8 604.0,593.2 605.3,588.6 606.6,578.3 608.1,586.7 609.6,594.1 611.4,588.6 613.3,592.3 615.1,601.5 616.4,610.8 617.7,625.7 619.2,640.5 621.1,647.9 622.6,659.1 624.4,673.9 626.6,686.9 629.4,695.2 633.1,698.9 637.8,699.8 682.7,699.8" fill="none" stroke="#1a1ae0" stroke-width="1.5" stroke-linejoin="round" />
<rect x="541.00" y="559.10" width="142.30" height="141.10" fill="none" stroke="#111" stroke-width="1.2"/>
<text x="545.80" y="574.60" font-size="9.8" fill="#1a1a1a">CD11c<tspan font-size="9.6" dy="-3.1"><tspan dx="0.9">−</tspan></tspan></text>
<text x="545.80" y="585.90" font-size="9.6" text-anchor="start" fill="#1a1a1a" >14.2</text>
<text x="638.50" y="574.60" font-size="9.8" fill="#1a1a1a">CD11c<tspan font-size="9.3" dy="-2.6">int</tspan></text>
<text x="638.50" y="585.90" font-size="9.6" text-anchor="start" fill="#1a1a1a" >85.8</text>
<line x1="515.60" y1="653.80" x2="515.60" y2="111.50" stroke="#111" stroke-width="1.3"/>
<polygon points="515.6,104.5 519.1,113.2 512.1,113.2" fill="#000" stroke="none" stroke-width="1" />
<text x="520.3" y="682" font-size="12.8" text-anchor="middle" fill="#111" transform="rotate(-90 520.3 682)">Counts</text>
<text x="542.00" y="726.90" font-size="12.9" text-anchor="start" fill="#111" >CD11c</text>
<line x1="585.00" y1="723.60" x2="646.00" y2="723.60" stroke="#111" stroke-width="1.3"/>
<polygon points="652.2,723.6 644.6,720.1 644.6,727.1" fill="#000" stroke="none" stroke-width="1" />
<line x1="39.80" y1="466.40" x2="221.50" y2="466.40" stroke="#222" stroke-width="1.25"/>
<line x1="39.80" y1="480.00" x2="221.50" y2="480.00" stroke="#222" stroke-width="1.25"/>
<line x1="39.80" y1="493.60" x2="221.50" y2="493.60" stroke="#222" stroke-width="1.25"/>
<line x1="39.80" y1="506.80" x2="221.50" y2="506.80" stroke="#222" stroke-width="1.25"/>
<line x1="39.80" y1="519.90" x2="221.50" y2="519.90" stroke="#222" stroke-width="1.25"/>
<line x1="39.80" y1="533.10" x2="221.50" y2="533.10" stroke="#222" stroke-width="1.25"/>
<line x1="54.20" y1="465.80" x2="54.20" y2="533.70" stroke="#222" stroke-width="1.3"/>
<line x1="125.80" y1="465.80" x2="125.80" y2="533.70" stroke="#222" stroke-width="1.3"/>
<line x1="169.80" y1="465.80" x2="169.80" y2="533.70" stroke="#222" stroke-width="1.3"/>
<text x="88.70" y="475.90" font-size="10.3" text-anchor="middle" fill="#1a1a1a" >Groups</text>
<text x="130.20" y="476.60" font-size="10.1" fill="#1a1a1a">CD11c<tspan font-size="9" dy="-4.8">−</tspan></text>
<text x="174.80" y="476.60" font-size="10.1" fill="#1a1a1a">CD11c<tspan font-size="9.6" dy="-3.0">int</tspan></text>
<rect x="41.2" y="482.0" width="9.4" height="8.2" fill="#fa2d2d"/>
<text x="55.80" y="490.20" font-size="9.85" text-anchor="start" fill="#1a1a1a" >BALB/c-Control</text>
<text x="160.20" y="490.20" font-size="9.85" text-anchor="end" fill="#1a1a1a" >88.5%</text>
<text x="205.30" y="490.20" font-size="9.85" text-anchor="end" fill="#1a1a1a" >11.5%</text>
<rect x="41.2" y="495.6" width="9.4" height="8.2" fill="#00c6f8"/>
<text x="55.80" y="503.30" font-size="9.85" text-anchor="start" fill="#1a1a1a" >BALB/c-MCMV</text>
<text x="160.20" y="503.30" font-size="9.85" text-anchor="end" fill="#1a1a1a" >45.3%</text>
<text x="205.30" y="503.30" font-size="9.85" text-anchor="end" fill="#1a1a1a" >54.7%</text>
<rect x="41.2" y="508.8" width="9.4" height="8.2" fill="#ff8c32"/>
<text x="55.80" y="516.50" font-size="9.85" text-anchor="start" fill="#1a1a1a" >C57-Control</text>
<text x="160.20" y="516.50" font-size="9.85" text-anchor="end" fill="#1a1a1a" >83.2%</text>
<text x="205.30" y="516.50" font-size="9.85" text-anchor="end" fill="#1a1a1a" >16.8%</text>
<rect x="41.2" y="521.9" width="9.4" height="8.2" fill="#55ee28"/>
<text x="55.80" y="529.60" font-size="9.85" text-anchor="start" fill="#1a1a1a" >C57-MCMV</text>
<text x="160.20" y="529.60" font-size="9.85" text-anchor="end" fill="#1a1a1a" >41.4%</text>
<text x="205.30" y="529.60" font-size="9.85" text-anchor="end" fill="#1a1a1a" >58.6%</text>
<line x1="298.70" y1="466.80" x2="480.40" y2="466.80" stroke="#222" stroke-width="1.25"/>
<line x1="298.70" y1="480.40" x2="480.40" y2="480.40" stroke="#222" stroke-width="1.25"/>
<line x1="298.70" y1="494.00" x2="480.40" y2="494.00" stroke="#222" stroke-width="1.25"/>
<line x1="298.70" y1="507.20" x2="480.40" y2="507.20" stroke="#222" stroke-width="1.25"/>
<line x1="298.70" y1="520.30" x2="480.40" y2="520.30" stroke="#222" stroke-width="1.25"/>
<line x1="298.70" y1="533.50" x2="480.40" y2="533.50" stroke="#222" stroke-width="1.25"/>
<line x1="313.10" y1="466.20" x2="313.10" y2="534.10" stroke="#222" stroke-width="1.3"/>
<line x1="384.70" y1="466.20" x2="384.70" y2="534.10" stroke="#222" stroke-width="1.3"/>
<line x1="428.70" y1="466.20" x2="428.70" y2="534.10" stroke="#222" stroke-width="1.3"/>
<text x="347.60" y="476.30" font-size="10.3" text-anchor="middle" fill="#1a1a1a" >Groups</text>
<text x="389.10" y="477.00" font-size="10.1" fill="#1a1a1a">CD11c<tspan font-size="9" dy="-4.8">−</tspan></text>
<text x="433.70" y="477.00" font-size="10.1" fill="#1a1a1a">CD11c<tspan font-size="9.6" dy="-3.0">int</tspan></text>
<rect x="300.1" y="482.4" width="9.4" height="8.2" fill="#fa2d2d"/>
<text x="314.70" y="490.60" font-size="9.85" text-anchor="start" fill="#1a1a1a" >BALB/c-Control</text>
<text x="419.10" y="490.60" font-size="9.85" text-anchor="end" fill="#1a1a1a" >92.7%</text>
<text x="464.20" y="490.60" font-size="9.85" text-anchor="end" fill="#1a1a1a" >7.3%</text>
<rect x="300.1" y="496.0" width="9.4" height="8.2" fill="#00c6f8"/>
<text x="314.70" y="503.70" font-size="9.85" text-anchor="start" fill="#1a1a1a" >BALB/c-MCMV</text>
<text x="419.10" y="503.70" font-size="9.85" text-anchor="end" fill="#1a1a1a" >49.8%</text>
<text x="464.20" y="503.70" font-size="9.85" text-anchor="end" fill="#1a1a1a" >50.2%</text>
<rect x="300.1" y="509.2" width="9.4" height="8.2" fill="#ff8c32"/>
<text x="314.70" y="516.90" font-size="9.85" text-anchor="start" fill="#1a1a1a" >C57-Control</text>
<text x="419.10" y="516.90" font-size="9.85" text-anchor="end" fill="#1a1a1a" >85.1%</text>
<text x="464.20" y="516.90" font-size="9.85" text-anchor="end" fill="#1a1a1a" >14.9%</text>
<rect x="300.1" y="522.3" width="9.4" height="8.2" fill="#55ee28"/>
<text x="314.70" y="530.00" font-size="9.85" text-anchor="start" fill="#1a1a1a" >C57-MCMV</text>
<text x="419.10" y="530.00" font-size="9.85" text-anchor="end" fill="#1a1a1a" >27.4%</text>
<text x="464.20" y="530.00" font-size="9.85" text-anchor="end" fill="#1a1a1a" >72.6%</text>
<line x1="43.10" y1="705.00" x2="47.50" y2="705.00" stroke="#111" stroke-width="0.9"/>
<line x1="45.10" y1="692.30" x2="47.50" y2="692.30" stroke="#111" stroke-width="0.9"/>
<line x1="45.10" y1="679.60" x2="47.50" y2="679.60" stroke="#111" stroke-width="0.9"/>
<line x1="43.10" y1="666.90" x2="47.50" y2="666.90" stroke="#111" stroke-width="0.9"/>
<line x1="45.10" y1="654.20" x2="47.50" y2="654.20" stroke="#111" stroke-width="0.9"/>
<line x1="45.10" y1="641.50" x2="47.50" y2="641.50" stroke="#111" stroke-width="0.9"/>
<line x1="43.10" y1="628.80" x2="47.50" y2="628.80" stroke="#111" stroke-width="0.9"/>
<line x1="45.10" y1="616.10" x2="47.50" y2="616.10" stroke="#111" stroke-width="0.9"/>
<line x1="45.10" y1="603.40" x2="47.50" y2="603.40" stroke="#111" stroke-width="0.9"/>
<line x1="43.10" y1="590.70" x2="47.50" y2="590.70" stroke="#111" stroke-width="0.9"/>
<line x1="45.10" y1="578.00" x2="47.50" y2="578.00" stroke="#111" stroke-width="0.9"/>
<line x1="45.10" y1="565.30" x2="47.50" y2="565.30" stroke="#111" stroke-width="0.9"/>
<line x1="43.10" y1="552.60" x2="47.50" y2="552.60" stroke="#111" stroke-width="0.9"/>
<line x1="84.00" y1="704.00" x2="84.00" y2="708.40" stroke="#111" stroke-width="0.9"/>
<line x1="123.80" y1="704.00" x2="123.80" y2="708.40" stroke="#111" stroke-width="0.9"/>
<line x1="161.20" y1="704.00" x2="161.20" y2="708.40" stroke="#111" stroke-width="0.9"/>
<line x1="199.10" y1="704.00" x2="199.10" y2="708.40" stroke="#111" stroke-width="0.9"/>
<line x1="95.98" y1="704.00" x2="95.98" y2="706.60" stroke="#111" stroke-width="0.8"/>
<line x1="102.99" y1="704.00" x2="102.99" y2="706.60" stroke="#111" stroke-width="0.8"/>
<line x1="107.96" y1="704.00" x2="107.96" y2="706.60" stroke="#111" stroke-width="0.8"/>
<line x1="111.82" y1="704.00" x2="111.82" y2="706.60" stroke="#111" stroke-width="0.8"/>
<line x1="114.97" y1="704.00" x2="114.97" y2="706.60" stroke="#111" stroke-width="0.8"/>
<line x1="117.63" y1="704.00" x2="117.63" y2="706.60" stroke="#111" stroke-width="0.8"/>
<line x1="119.94" y1="704.00" x2="119.94" y2="706.60" stroke="#111" stroke-width="0.8"/>
<line x1="121.98" y1="704.00" x2="121.98" y2="706.60" stroke="#111" stroke-width="0.8"/>
<line x1="135.06" y1="704.00" x2="135.06" y2="706.60" stroke="#111" stroke-width="0.8"/>
<line x1="141.64" y1="704.00" x2="141.64" y2="706.60" stroke="#111" stroke-width="0.8"/>
<line x1="146.32" y1="704.00" x2="146.32" y2="706.60" stroke="#111" stroke-width="0.8"/>
<line x1="149.94" y1="704.00" x2="149.94" y2="706.60" stroke="#111" stroke-width="0.8"/>
<line x1="152.90" y1="704.00" x2="152.90" y2="706.60" stroke="#111" stroke-width="0.8"/>
<line x1="155.41" y1="704.00" x2="155.41" y2="706.60" stroke="#111" stroke-width="0.8"/>
<line x1="157.58" y1="704.00" x2="157.58" y2="706.60" stroke="#111" stroke-width="0.8"/>
<line x1="159.49" y1="704.00" x2="159.49" y2="706.60" stroke="#111" stroke-width="0.8"/>
<line x1="172.61" y1="704.00" x2="172.61" y2="706.60" stroke="#111" stroke-width="0.8"/>
<line x1="179.28" y1="704.00" x2="179.28" y2="706.60" stroke="#111" stroke-width="0.8"/>
<line x1="184.02" y1="704.00" x2="184.02" y2="706.60" stroke="#111" stroke-width="0.8"/>
<line x1="187.69" y1="704.00" x2="187.69" y2="706.60" stroke="#111" stroke-width="0.8"/>
<line x1="190.69" y1="704.00" x2="190.69" y2="706.60" stroke="#111" stroke-width="0.8"/>
<line x1="193.23" y1="704.00" x2="193.23" y2="706.60" stroke="#111" stroke-width="0.8"/>
<line x1="195.43" y1="704.00" x2="195.43" y2="706.60" stroke="#111" stroke-width="0.8"/>
<line x1="197.37" y1="704.00" x2="197.37" y2="706.60" stroke="#111" stroke-width="0.8"/>
<line x1="210.51" y1="704.00" x2="210.51" y2="706.60" stroke="#111" stroke-width="0.8"/>
<line x1="69.75" y1="704.00" x2="69.75" y2="706.60" stroke="#111" stroke-width="0.8"/>
<line x1="73.55" y1="704.00" x2="73.55" y2="706.60" stroke="#111" stroke-width="0.8"/>
<line x1="76.40" y1="704.00" x2="76.40" y2="706.60" stroke="#111" stroke-width="0.8"/>
<line x1="78.68" y1="704.00" x2="78.68" y2="706.60" stroke="#111" stroke-width="0.8"/>
<line x1="80.58" y1="704.00" x2="80.58" y2="706.60" stroke="#111" stroke-width="0.8"/>
<line x1="82.10" y1="704.00" x2="82.10" y2="706.60" stroke="#111" stroke-width="0.8"/>
<line x1="60.49" y1="704.00" x2="60.49" y2="706.60" stroke="#111" stroke-width="0.8"/>
<line x1="56.88" y1="704.00" x2="56.88" y2="706.60" stroke="#111" stroke-width="0.8"/>
<line x1="54.17" y1="704.00" x2="54.17" y2="706.60" stroke="#111" stroke-width="0.8"/>
<line x1="52.00" y1="704.00" x2="52.00" y2="706.60" stroke="#111" stroke-width="0.8"/>
<line x1="50.20" y1="704.00" x2="50.20" y2="706.60" stroke="#111" stroke-width="0.8"/>
<rect x="62.8" y="704.0" width="4.4" height="4.4" fill="#111"/>
<polygon points="48.0,703.7 48.3,701.6 53.8,681.9 58.2,648.9 62.6,622.5 67.0,607.0 71.4,596.2 75.8,590.7 78.0,585.2 81.3,591.8 84.6,586.3 87.9,597.3 91.2,589.6 93.8,584.0 96.6,595.0 100.0,594.0 103.2,591.8 104.3,600.5 107.6,611.5 110.9,622.5 114.2,637.9 116.4,653.3 119.7,664.3 123.0,677.5 127.4,688.5 132.9,697.3 139.5,701.6 150.0,703.2 213.8,703.7" fill="rgba(120,240,70,0.42)" stroke="none" stroke-width="1" />
<polyline points="48.0,703.7 48.3,701.6 53.8,681.9 58.2,648.9 62.6,622.5 67.0,607.0 71.4,596.2 75.8,590.7 78.0,585.2 81.3,591.8 84.6,586.3 87.9,597.3 91.2,589.6 93.8,584.0 96.6,595.0 100.0,594.0 103.2,591.8 104.3,600.5 107.6,611.5 110.9,622.5 114.2,637.9 116.4,653.3 119.7,664.3 123.0,677.5 127.4,688.5 132.9,697.3 139.5,701.6 150.0,703.2 213.8,703.7" fill="none" stroke="#4fe51c" stroke-width="1.4" stroke-linejoin="round" />
<polygon points="48.0,703.7 52.0,695.0 56.0,680.0 60.4,655.0 63.0,638.0 65.9,624.7 68.1,618.1 70.3,622.5 73.6,616.0 75.8,622.5 80.2,633.5 83.5,642.3 87.9,646.7 91.2,644.5 94.5,650.0 98.8,651.1 103.2,641.2 106.5,647.8 110.9,650.0 115.3,654.4 119.7,659.9 123.0,673.1 126.3,684.0 129.6,690.7 132.9,696.2 137.3,701.2 145.0,703.2 213.8,703.7" fill="rgba(62,221,173,0.5)" stroke="none" stroke-width="1" />
<polyline points="48.0,703.7 52.0,695.0 56.0,680.0 60.4,655.0 63.0,638.0 65.9,624.7 68.1,618.1 70.3,622.5 73.6,616.0 75.8,622.5 80.2,633.5 83.5,642.3 87.9,646.7 91.2,644.5 94.5,650.0 98.8,651.1 103.2,641.2 106.5,647.8 110.9,650.0 115.3,654.4 119.7,659.9 123.0,673.1 126.3,684.0 129.6,690.7 132.9,696.2 137.3,701.2 145.0,703.2 213.8,703.7" fill="none" stroke="#2fc7b8" stroke-width="1.2" stroke-linejoin="round" />
<polygon points="48.0,703.7 52.0,695.0 56.0,675.0 60.0,650.0 63.0,625.0 67.0,607.0 70.3,594.0 72.5,592.9 74.7,597.3 76.1,607.0 79.8,625.6 82.6,642.2 85.4,658.9 87.2,673.7 90.0,686.7 94.6,694.1 102.0,697.8 110.0,701.0 120.0,703.2 213.8,703.7" fill="rgba(240,50,40,0.25)" stroke="none" stroke-width="1" />
<polyline points="48.0,703.7 52.0,695.0 56.0,675.0 60.0,650.0 63.0,625.0 67.0,607.0 70.3,594.0 72.5,592.9 74.7,597.3 76.1,607.0 79.8,625.6 82.6,642.2 85.4,658.9 87.2,673.7 90.0,686.7 94.6,694.1 102.0,697.8 110.0,701.0 120.0,703.2 213.8,703.7" fill="none" stroke="rgba(240,50,30,0.75)" stroke-width="1.0" stroke-linejoin="round" />
<polygon points="48.0,703.7 51.6,700.0 56.0,673.0 59.3,637.9 62.6,616.0 65.9,600.5 68.7,589.6 70.9,572.0 73.1,557.7 74.7,572.0 76.0,585.0 78.0,592.0 80.7,597.8 82.6,616.3 84.4,640.4 86.3,653.3 88.1,668.1 90.0,681.1 92.8,690.4 98.3,695.9 107.6,699.6 115.0,702.0 130.0,703.2 213.8,703.7" fill="rgba(250,150,50,0.4)" stroke="none" stroke-width="1" />
<polyline points="48.0,703.7 51.6,700.0 56.0,673.0 59.3,637.9 62.6,616.0 65.9,600.5 68.7,589.6 70.9,572.0 73.1,557.7 74.7,572.0 76.0,585.0 78.0,592.0 80.7,597.8 82.6,616.3 84.4,640.4 86.3,653.3 88.1,668.1 90.0,681.1 92.8,690.4 98.3,695.9 107.6,699.6 115.0,702.0 130.0,703.2 213.8,703.7" fill="none" stroke="#f59a2a" stroke-width="1.2" stroke-linejoin="round" />
<line x1="47.50" y1="661.50" x2="88.30" y2="661.50" stroke="#4a3510" stroke-width="1.4"/>
<line x1="88.30" y1="669.80" x2="214.30" y2="669.80" stroke="#111" stroke-width="1.4"/>
<line x1="88.30" y1="658.30" x2="88.30" y2="664.60" stroke="#3a2a08" stroke-width="1.3"/>
<line x1="88.30" y1="666.60" x2="88.30" y2="672.90" stroke="#3a2a08" stroke-width="1.3"/>
<line x1="214.30" y1="666.60" x2="214.30" y2="672.90" stroke="#111" stroke-width="1.3"/>
<rect x="47.5" y="539.8" width="166.8" height="164.2" fill="none" stroke="#111" stroke-width="1.2"/>
<text x="52.0" y="552.1" font-size="9.8" fill="#1a1a1a">CD11c<tspan font-size="9" dy="-4.6" dx="0.4">−</tspan></text>
<text x="105.40" y="552.30" font-size="11.0" text-anchor="start" fill="#1a1a1a" >spleen</text>
<text x="159.8" y="552.1" font-size="9.8" fill="#1a1a1a">CD11c<tspan font-size="9.6" dy="-3.0">int</tspan></text>
<line x1="31.10" y1="705.00" x2="31.10" y2="626.50" stroke="#111" stroke-width="1.3"/>
<polygon points="31.1,620.6 34.0,628.2 28.2,628.2" fill="#000" stroke="none" stroke-width="1" />
<text x="35.3" y="597.6" font-size="12.8" text-anchor="middle" fill="#111" transform="rotate(-90 35.3 597.6)">Counts</text>
<line x1="47.30" y1="723.60" x2="125.00" y2="723.60" stroke="#111" stroke-width="1.3"/>
<polygon points="131.0,723.6 123.6,720.2 123.6,727.0" fill="#000" stroke="none" stroke-width="1" />
<text x="137.40" y="727.40" font-size="12.9" text-anchor="start" fill="#111" >CD11c</text>
<line x1="301.90" y1="704.50" x2="306.30" y2="704.50" stroke="#111" stroke-width="0.9"/>
<line x1="303.90" y1="692.27" x2="306.30" y2="692.27" stroke="#111" stroke-width="0.9"/>
<line x1="303.90" y1="680.03" x2="306.30" y2="680.03" stroke="#111" stroke-width="0.9"/>
<line x1="301.90" y1="667.80" x2="306.30" y2="667.80" stroke="#111" stroke-width="0.9"/>
<line x1="303.90" y1="655.57" x2="306.30" y2="655.57" stroke="#111" stroke-width="0.9"/>
<line x1="303.90" y1="643.33" x2="306.30" y2="643.33" stroke="#111" stroke-width="0.9"/>
<line x1="301.90" y1="631.10" x2="306.30" y2="631.10" stroke="#111" stroke-width="0.9"/>
<line x1="303.90" y1="618.87" x2="306.30" y2="618.87" stroke="#111" stroke-width="0.9"/>
<line x1="303.90" y1="606.63" x2="306.30" y2="606.63" stroke="#111" stroke-width="0.9"/>
<line x1="301.90" y1="594.40" x2="306.30" y2="594.40" stroke="#111" stroke-width="0.9"/>
<line x1="303.90" y1="582.17" x2="306.30" y2="582.17" stroke="#111" stroke-width="0.9"/>
<line x1="303.90" y1="569.93" x2="306.30" y2="569.93" stroke="#111" stroke-width="0.9"/>
<line x1="301.90" y1="557.70" x2="306.30" y2="557.70" stroke="#111" stroke-width="0.9"/>
<line x1="303.90" y1="545.47" x2="306.30" y2="545.47" stroke="#111" stroke-width="0.9"/>
<line x1="342.00" y1="704.50" x2="342.00" y2="708.90" stroke="#111" stroke-width="0.9"/>
<line x1="381.40" y1="704.50" x2="381.40" y2="708.90" stroke="#111" stroke-width="0.9"/>
<line x1="419.50" y1="704.50" x2="419.50" y2="708.90" stroke="#111" stroke-width="0.9"/>
<line x1="457.60" y1="704.50" x2="457.60" y2="708.90" stroke="#111" stroke-width="0.9"/>
<line x1="353.86" y1="704.50" x2="353.86" y2="707.10" stroke="#111" stroke-width="0.8"/>
<line x1="360.80" y1="704.50" x2="360.80" y2="707.10" stroke="#111" stroke-width="0.8"/>
<line x1="365.72" y1="704.50" x2="365.72" y2="707.10" stroke="#111" stroke-width="0.8"/>
<line x1="369.54" y1="704.50" x2="369.54" y2="707.10" stroke="#111" stroke-width="0.8"/>
<line x1="372.66" y1="704.50" x2="372.66" y2="707.10" stroke="#111" stroke-width="0.8"/>
<line x1="375.30" y1="704.50" x2="375.30" y2="707.10" stroke="#111" stroke-width="0.8"/>
<line x1="377.58" y1="704.50" x2="377.58" y2="707.10" stroke="#111" stroke-width="0.8"/>
<line x1="379.60" y1="704.50" x2="379.60" y2="707.10" stroke="#111" stroke-width="0.8"/>
<line x1="392.87" y1="704.50" x2="392.87" y2="707.10" stroke="#111" stroke-width="0.8"/>
<line x1="399.58" y1="704.50" x2="399.58" y2="707.10" stroke="#111" stroke-width="0.8"/>
<line x1="404.34" y1="704.50" x2="404.34" y2="707.10" stroke="#111" stroke-width="0.8"/>
<line x1="408.03" y1="704.50" x2="408.03" y2="707.10" stroke="#111" stroke-width="0.8"/>
<line x1="411.05" y1="704.50" x2="411.05" y2="707.10" stroke="#111" stroke-width="0.8"/>
<line x1="413.60" y1="704.50" x2="413.60" y2="707.10" stroke="#111" stroke-width="0.8"/>
<line x1="415.81" y1="704.50" x2="415.81" y2="707.10" stroke="#111" stroke-width="0.8"/>
<line x1="417.76" y1="704.50" x2="417.76" y2="707.10" stroke="#111" stroke-width="0.8"/>
<line x1="430.97" y1="704.50" x2="430.97" y2="707.10" stroke="#111" stroke-width="0.8"/>
<line x1="437.68" y1="704.50" x2="437.68" y2="707.10" stroke="#111" stroke-width="0.8"/>
<line x1="442.44" y1="704.50" x2="442.44" y2="707.10" stroke="#111" stroke-width="0.8"/>
<line x1="446.13" y1="704.50" x2="446.13" y2="707.10" stroke="#111" stroke-width="0.8"/>
<line x1="449.15" y1="704.50" x2="449.15" y2="707.10" stroke="#111" stroke-width="0.8"/>
<line x1="451.70" y1="704.50" x2="451.70" y2="707.10" stroke="#111" stroke-width="0.8"/>
<line x1="453.91" y1="704.50" x2="453.91" y2="707.10" stroke="#111" stroke-width="0.8"/>
<line x1="455.86" y1="704.50" x2="455.86" y2="707.10" stroke="#111" stroke-width="0.8"/>
<line x1="469.07" y1="704.50" x2="469.07" y2="707.10" stroke="#111" stroke-width="0.8"/>
<line x1="328.20" y1="704.50" x2="328.20" y2="707.10" stroke="#111" stroke-width="0.8"/>
<line x1="331.88" y1="704.50" x2="331.88" y2="707.10" stroke="#111" stroke-width="0.8"/>
<line x1="334.64" y1="704.50" x2="334.64" y2="707.10" stroke="#111" stroke-width="0.8"/>
<line x1="336.85" y1="704.50" x2="336.85" y2="707.10" stroke="#111" stroke-width="0.8"/>
<line x1="338.69" y1="704.50" x2="338.69" y2="707.10" stroke="#111" stroke-width="0.8"/>
<line x1="340.16" y1="704.50" x2="340.16" y2="707.10" stroke="#111" stroke-width="0.8"/>
<line x1="319.23" y1="704.50" x2="319.23" y2="707.10" stroke="#111" stroke-width="0.8"/>
<line x1="315.73" y1="704.50" x2="315.73" y2="707.10" stroke="#111" stroke-width="0.8"/>
<line x1="313.11" y1="704.50" x2="313.11" y2="707.10" stroke="#111" stroke-width="0.8"/>
<line x1="311.01" y1="704.50" x2="311.01" y2="707.10" stroke="#111" stroke-width="0.8"/>
<line x1="309.27" y1="704.50" x2="309.27" y2="707.10" stroke="#111" stroke-width="0.8"/>
<rect x="321.4" y="704.5" width="4.4" height="4.4" fill="#111"/>
<polygon points="306.8,704.2 314.9,682.7 319.1,661.4 322.3,646.5 325.2,634.6 328.1,633.9 330.2,631.0 332.4,634.6 335.3,641.8 339.6,650.5 342.5,660.6 345.4,672.1 348.3,676.4 351.9,673.6 354.8,675.7 358.4,670.7 362.7,659.1 364.9,659.7 368.1,660.3 371.3,658.8 374.5,659.3 377.7,667.8 380.9,678.4 384.0,689.0 389.4,697.6 395.7,701.8 405.0,703.7 472.8,704.2" fill="rgba(62,221,173,0.5)" stroke="none" stroke-width="1" />
<polyline points="306.8,704.2 314.9,682.7 319.1,661.4 322.3,646.5 325.2,634.6 328.1,633.9 330.2,631.0 332.4,634.6 335.3,641.8 339.6,650.5 342.5,660.6 345.4,672.1 348.3,676.4 351.9,673.6 354.8,675.7 358.4,670.7 362.7,659.1 364.9,659.7 368.1,660.3 371.3,658.8 374.5,659.3 377.7,667.8 380.9,678.4 384.0,689.0 389.4,697.6 395.7,701.8 405.0,703.7 472.8,704.2" fill="none" stroke="#2fc7b8" stroke-width="1.2" stroke-linejoin="round" />
<polygon points="306.8,704.2 310.0,700.0 316.0,670.0 320.0,650.0 324.0,632.0 326.5,625.0 328.1,618.8 329.8,628.8 331.7,628.8 333.1,631.0 336.0,640.0 340.0,660.0 344.0,680.0 348.0,695.0 355.0,701.0 365.0,703.7 472.8,704.2" fill="rgba(240,50,40,0.28)" stroke="none" stroke-width="1" />
<polyline points="306.8,704.2 310.0,700.0 316.0,670.0 320.0,650.0 324.0,632.0 326.5,625.0 328.1,618.8 329.8,628.8 331.7,628.8 333.1,631.0 336.0,640.0 340.0,660.0 344.0,680.0 348.0,695.0 355.0,701.0 365.0,703.7 472.8,704.2" fill="none" stroke="#f03a22" stroke-width="1.2" stroke-linejoin="round" />
<polygon points="306.8,704.2 309.6,691.2 312.2,686.5 316.5,666.3 319.4,643.3 321.6,621.6 322.5,601.0 324.8,598.8 326.3,590.4 327.8,573.8 330.0,570.0 333.1,563.2 335.0,572.0 337.2,569.6 339.1,581.4 340.6,593.5 342.1,605.6 343.2,620.7 345.4,643.3 348.3,664.9 351.2,680.8 354.0,689.4 358.4,693.0 364.1,693.8 368.1,695.4 372.3,699.7 380.9,702.4 400.0,703.7 472.8,704.2" fill="rgba(250,150,60,0.36)" stroke="none" stroke-width="1" />
<polyline points="306.8,704.2 309.6,691.2 312.2,686.5 316.5,666.3 319.4,643.3 321.6,621.6 322.5,601.0 324.8,598.8 326.3,590.4 327.8,573.8 330.0,570.0 333.1,563.2 335.0,572.0 337.2,569.6 339.1,581.4 340.6,593.5 342.1,605.6 343.2,620.7 345.4,643.3 348.3,664.9 351.2,680.8 354.0,689.4 358.4,693.0 364.1,693.8 368.1,695.4 372.3,699.7 380.9,702.4 400.0,703.7 472.8,704.2" fill="none" stroke="#f59a2a" stroke-width="1.3" stroke-linejoin="round" />
<polyline points="314.9,682.7 319.1,661.4 322.3,646.5 325.2,634.6 328.1,633.9 330.2,631.0 332.4,634.6 335.3,641.8 339.6,650.5 342.5,660.6 345.4,672.1 348.3,676.4" fill="none" stroke="rgba(47,199,184,0.8)" stroke-width="1.2" stroke-linejoin="round" />
<polygon points="306.8,704.2 307.2,703.1 313.7,695.2 318.0,683.7 320.1,672.1 323.0,670.7 325.9,659.1 328.8,647.6 331.7,637.5 333.8,628.8 335.3,625.7 337.5,627.4 339.6,626.7 341.8,626.0 343.2,628.8 344.7,634.6 346.8,636.1 349.0,638.2 351.2,634.6 354.0,631.7 356.2,627.4 357.6,623.1 359.5,611.5 360.0,590.1 361.7,599.7 363.8,593.3 366.0,574.1 368.1,567.8 371.3,565.6 373.4,593.3 376.6,603.9 379.8,621.0 383.0,644.4 386.2,665.6 389.4,682.7 393.6,695.4 397.9,701.8 410.0,703.7 472.8,704.2" fill="rgba(120,240,70,0.42)" stroke="none" stroke-width="1" />
<polyline points="306.8,704.2 307.2,703.1 313.7,695.2 318.0,683.7 320.1,672.1 323.0,670.7 325.9,659.1 328.8,647.6 331.7,637.5 333.8,628.8 335.3,625.7 337.5,627.4 339.6,626.7 341.8,626.0 343.2,628.8 344.7,634.6 346.8,636.1 349.0,638.2 351.2,634.6 354.0,631.7 356.2,627.4 357.6,623.1 359.5,611.5 360.0,590.1 361.7,599.7 363.8,593.3 366.0,574.1 368.1,567.8 371.3,565.6 373.4,593.3 376.6,603.9 379.8,621.0 383.0,644.4 386.2,665.6 389.4,682.7 393.6,695.4 397.9,701.8 410.0,703.7 472.8,704.2" fill="none" stroke="#4fe51c" stroke-width="1.4" stroke-linejoin="round" />
<line x1="372.00" y1="704.10" x2="472.70" y2="704.10" stroke="#f59a2a" stroke-width="1.3"/>
<line x1="306.30" y1="673.70" x2="347.90" y2="673.70" stroke="#3d4a18" stroke-width="1.4"/>
<line x1="347.90" y1="683.10" x2="473.30" y2="683.10" stroke="#111" stroke-width="1.4"/>
<line x1="347.90" y1="670.50" x2="347.90" y2="676.90" stroke="#2a3a10" stroke-width="1.3"/>
<line x1="347.90" y1="679.90" x2="347.90" y2="686.30" stroke="#2a3a10" stroke-width="1.3"/>
<line x1="473.30" y1="679.90" x2="473.30" y2="686.30" stroke="#111" stroke-width="1.3"/>
<rect x="306.3" y="539.7" width="167.0" height="164.8" fill="none" stroke="#111" stroke-width="1.2"/>
<text x="311.8" y="552.6" font-size="9.8" fill="#1a1a1a">CD11c<tspan font-size="9" dy="-4.6" dx="0.4">−</tspan></text>
<text x="370.50" y="552.70" font-size="11.0" text-anchor="start" fill="#1a1a1a" >blood</text>
<text x="417.6" y="552.6" font-size="9.8" fill="#1a1a1a">CD11c<tspan font-size="9.6" dy="-3.0">int</tspan></text>
<line x1="290.70" y1="706.00" x2="290.70" y2="628.50" stroke="#111" stroke-width="1.3"/>
<polygon points="290.7,622.6 293.6,630.2 287.8,630.2" fill="#000" stroke="none" stroke-width="1" />
<text x="295.5" y="598.5" font-size="12.8" text-anchor="middle" fill="#111" transform="rotate(-90 295.5 598.5)">Counts</text>
<line x1="303.80" y1="724.20" x2="382.00" y2="724.20" stroke="#111" stroke-width="1.3"/>
<polygon points="388.0,724.2 380.6,720.8 380.6,727.6" fill="#000" stroke="none" stroke-width="1" />
<text x="389.20" y="727.60" font-size="12.9" text-anchor="start" fill="#111" >CD11c</text>
</svg></body></html>
